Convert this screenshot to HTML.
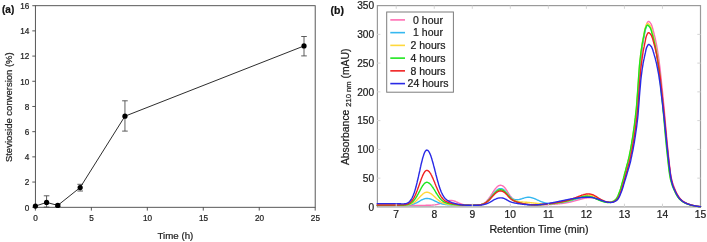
<!DOCTYPE html>
<html><head><meta charset="utf-8"><title>Figure</title>
<style>html,body{margin:0;padding:0;background:#fff}svg{display:block}.tx text{stroke:#222;stroke-width:0.22px;paint-order:stroke}</style></head>
<body><svg width="707" height="242" viewBox="0 0 707 242">
<rect width="707" height="242" fill="#fff"/>
<g id="panelA" font-family="Liberation Sans, sans-serif" fill="#222" class="tx">
<rect x="35.4" y="5.7" width="279.8" height="201.6" fill="none" stroke="#454545" stroke-width="0.9"/>
<line x1="32.3" y1="207.25" x2="35.4" y2="207.25" stroke="#454545" stroke-width="0.9"/>
<text x="29.3" y="210.55" font-size="8.2" text-anchor="end">0</text>
<line x1="32.3" y1="182.06" x2="35.4" y2="182.06" stroke="#454545" stroke-width="0.9"/>
<text x="29.3" y="185.36" font-size="8.2" text-anchor="end">2</text>
<line x1="32.3" y1="156.86" x2="35.4" y2="156.86" stroke="#454545" stroke-width="0.9"/>
<text x="29.3" y="160.16" font-size="8.2" text-anchor="end">4</text>
<line x1="32.3" y1="131.67" x2="35.4" y2="131.67" stroke="#454545" stroke-width="0.9"/>
<text x="29.3" y="134.97" font-size="8.2" text-anchor="end">6</text>
<line x1="32.3" y1="106.47" x2="35.4" y2="106.47" stroke="#454545" stroke-width="0.9"/>
<text x="29.3" y="109.77" font-size="8.2" text-anchor="end">8</text>
<line x1="32.3" y1="81.28" x2="35.4" y2="81.28" stroke="#454545" stroke-width="0.9"/>
<text x="29.3" y="84.58" font-size="8.2" text-anchor="end">10</text>
<line x1="32.3" y1="56.09" x2="35.4" y2="56.09" stroke="#454545" stroke-width="0.9"/>
<text x="29.3" y="59.39" font-size="8.2" text-anchor="end">12</text>
<line x1="32.3" y1="30.89" x2="35.4" y2="30.89" stroke="#454545" stroke-width="0.9"/>
<text x="29.3" y="34.19" font-size="8.2" text-anchor="end">14</text>
<line x1="32.3" y1="5.70" x2="35.4" y2="5.70" stroke="#454545" stroke-width="0.9"/>
<text x="29.3" y="9.00" font-size="8.2" text-anchor="end">16</text>
<line x1="35.40" y1="207.25" x2="35.40" y2="210.6" stroke="#454545" stroke-width="0.9"/>
<text x="35.60" y="221.1" font-size="8.2" text-anchor="middle">0</text>
<line x1="91.36" y1="207.25" x2="91.36" y2="210.6" stroke="#454545" stroke-width="0.9"/>
<text x="91.56" y="221.1" font-size="8.2" text-anchor="middle">5</text>
<line x1="147.32" y1="207.25" x2="147.32" y2="210.6" stroke="#454545" stroke-width="0.9"/>
<text x="147.52" y="221.1" font-size="8.2" text-anchor="middle">10</text>
<line x1="203.28" y1="207.25" x2="203.28" y2="210.6" stroke="#454545" stroke-width="0.9"/>
<text x="203.48" y="221.1" font-size="8.2" text-anchor="middle">15</text>
<line x1="259.24" y1="207.25" x2="259.24" y2="210.6" stroke="#454545" stroke-width="0.9"/>
<text x="259.44" y="221.1" font-size="8.2" text-anchor="middle">20</text>
<line x1="315.20" y1="207.25" x2="315.20" y2="210.6" stroke="#454545" stroke-width="0.9"/>
<text x="315.40" y="221.1" font-size="8.2" text-anchor="middle">25</text>
<path d="M46.59 195.80V207.10M43.79 195.80h5.6M43.79 207.10h5.6" stroke="#4c4c4c" stroke-width="0.9" fill="none"/>
<path d="M57.78 204.30V206.50M54.98 204.30h5.6M54.98 206.50h5.6" stroke="#4c4c4c" stroke-width="0.9" fill="none"/>
<path d="M80.17 184.30V191.00M77.37 184.30h5.6M77.37 191.00h5.6" stroke="#4c4c4c" stroke-width="0.9" fill="none"/>
<path d="M124.94 100.80V131.10M122.14 100.80h5.6M122.14 131.10h5.6" stroke="#4c4c4c" stroke-width="0.9" fill="none"/>
<path d="M304.01 36.50V55.90M301.21 36.50h5.6M301.21 55.90h5.6" stroke="#4c4c4c" stroke-width="0.9" fill="none"/>
<path d="M35.40 206.10 L46.59 202.40 L57.78 205.40 L80.17 187.50 L124.94 116.20 L304.01 45.95" fill="none" stroke="#222" stroke-width="0.95"/>
<circle cx="35.40" cy="206.10" r="2.6" fill="#000"/>
<circle cx="46.59" cy="202.40" r="2.6" fill="#000"/>
<circle cx="57.78" cy="205.40" r="2.6" fill="#000"/>
<circle cx="80.17" cy="187.50" r="2.6" fill="#000"/>
<circle cx="124.94" cy="116.20" r="2.6" fill="#000"/>
<circle cx="304.01" cy="45.95" r="2.6" fill="#000"/>
<text x="175.4" y="238.5" font-size="9.7" text-anchor="middle">Time (h)</text>
<text transform="translate(12.2 107.2) rotate(-90)" font-size="9.5" text-anchor="middle">Stevioside conversion (%)</text>
<text x="2" y="13.4" font-size="10" font-weight="bold" fill="#111">(a)</text>
</g>
<g id="panelB" font-family="Liberation Sans, sans-serif" fill="#1a1a1a" class="tx">
<rect x="377.4" y="5.6" width="323.1" height="201.3" fill="none" stroke="#9a9a9a" stroke-width="1.2"/>
<path d="M377.2 205.17 L377.7 205.17 L378.1 205.17 L378.6 205.17 L379.1 205.17 L379.5 205.17 L380.0 205.17 L380.4 205.17 L380.9 205.17 L381.4 205.17 L381.8 205.17 L382.3 205.17 L382.8 205.17 L383.2 205.17 L383.7 205.17 L384.1 205.17 L384.6 205.17 L385.1 205.17 L385.5 205.17 L386.0 205.17 L386.5 205.17 L386.9 205.17 L387.4 205.17 L387.8 205.17 L388.3 205.17 L388.8 205.17 L389.2 205.17 L389.7 205.17 L390.2 205.17 L390.6 205.17 L391.1 205.17 L391.5 205.17 L392.0 205.17 L392.5 205.17 L392.9 205.17 L393.4 205.17 L393.9 205.17 L394.3 205.17 L394.8 205.17 L395.2 205.17 L395.7 205.17 L396.2 205.17 L396.6 205.17 L397.1 205.17 L397.6 205.17 L398.0 205.18 L398.5 205.18 L398.9 205.18 L399.4 205.18 L399.9 205.19 L400.3 205.19 L400.8 205.20 L401.3 205.20 L401.7 205.21 L402.2 205.21 L402.6 205.22 L403.1 205.22 L403.6 205.23 L404.0 205.24 L404.5 205.24 L405.0 205.25 L405.4 205.25 L405.9 205.26 L406.3 205.27 L406.8 205.27 L407.3 205.28 L407.7 205.29 L408.2 205.29 L408.7 205.30 L409.1 205.30 L409.6 205.31 L410.0 205.31 L410.5 205.32 L411.0 205.32 L411.4 205.33 L411.9 205.33 L412.4 205.33 L412.8 205.34 L413.3 205.34 L413.7 205.34 L414.2 205.34 L414.7 205.34 L415.1 205.34 L415.6 205.34 L416.1 205.34 L416.5 205.34 L417.0 205.34 L417.4 205.34 L417.9 205.34 L418.4 205.34 L418.8 205.34 L419.3 205.34 L419.8 205.34 L420.2 205.34 L420.7 205.34 L421.1 205.34 L421.6 205.34 L422.1 205.34 L422.5 205.34 L423.0 205.34 L423.5 205.34 L423.9 205.34 L424.4 205.33 L424.8 205.33 L425.3 205.33 L425.8 205.32 L426.2 205.32 L426.7 205.32 L427.2 205.31 L427.6 205.30 L428.1 205.29 L428.5 205.28 L429.0 205.27 L429.5 205.26 L429.9 205.24 L430.4 205.22 L430.9 205.20 L431.3 205.17 L431.8 205.14 L432.2 205.11 L432.7 205.07 L433.2 205.03 L433.6 204.98 L434.1 204.93 L434.6 204.87 L435.0 204.80 L435.5 204.73 L435.9 204.65 L436.4 204.57 L436.9 204.47 L437.3 204.37 L437.8 204.26 L438.3 204.14 L438.7 204.01 L439.2 203.88 L439.6 203.74 L440.1 203.59 L440.6 203.43 L441.0 203.27 L441.5 203.10 L442.0 202.93 L442.4 202.75 L442.9 202.57 L443.3 202.39 L443.8 202.21 L444.3 202.03 L444.7 201.86 L445.2 201.68 L445.7 201.52 L446.1 201.36 L446.6 201.21 L447.0 201.07 L447.5 200.94 L448.0 200.82 L448.4 200.72 L448.9 200.63 L449.4 200.56 L449.8 200.51 L450.3 200.47 L450.7 200.45 L451.2 200.45 L451.7 200.48 L452.1 200.52 L452.6 200.60 L453.1 200.69 L453.5 200.81 L454.0 200.95 L454.4 201.10 L454.9 201.27 L455.4 201.45 L455.8 201.64 L456.3 201.85 L456.8 202.05 L457.2 202.27 L457.7 202.48 L458.1 202.69 L458.6 202.90 L459.1 203.10 L459.5 203.30 L460.0 203.49 L460.5 203.67 L460.9 203.84 L461.4 204.00 L461.8 204.15 L462.3 204.29 L462.8 204.41 L463.2 204.53 L463.7 204.63 L464.2 204.73 L464.6 204.81 L465.1 204.89 L465.5 204.96 L466.0 205.01 L466.5 205.07 L466.9 205.11 L467.4 205.15 L467.9 205.18 L468.3 205.21 L468.8 205.23 L469.2 205.25 L469.7 205.27 L470.2 205.28 L470.6 205.29 L471.1 205.30 L471.6 205.30 L472.0 205.30 L472.5 205.31 L472.9 205.30 L473.4 205.30 L473.9 205.30 L474.3 205.29 L474.8 205.28 L475.3 205.26 L475.7 205.24 L476.2 205.22 L476.6 205.19 L477.1 205.16 L477.6 205.12 L478.0 205.08 L478.5 205.02 L479.0 204.96 L479.4 204.88 L479.9 204.79 L480.3 204.69 L480.8 204.57 L481.3 204.44 L481.7 204.28 L482.2 204.11 L482.7 203.91 L483.1 203.69 L483.6 203.44 L484.0 203.17 L484.5 202.86 L485.0 202.53 L485.4 202.16 L485.9 201.76 L486.4 201.32 L486.8 200.86 L487.3 200.36 L487.7 199.82 L488.2 199.26 L488.7 198.66 L489.1 198.04 L489.6 197.39 L490.1 196.71 L490.5 196.02 L491.0 195.31 L491.4 194.59 L491.9 193.86 L492.4 193.13 L492.8 192.41 L493.3 191.69 L493.8 190.99 L494.2 190.30 L494.7 189.65 L495.1 189.02 L495.6 188.43 L496.1 187.89 L496.5 187.38 L497.0 186.93 L497.5 186.53 L497.9 186.18 L498.4 185.89 L498.8 185.66 L499.3 185.49 L499.8 185.38 L500.2 185.31 L500.7 185.30 L501.2 185.33 L501.6 185.42 L502.1 185.57 L502.5 185.79 L503.0 186.08 L503.5 186.43 L503.9 186.85 L504.4 187.32 L504.9 187.85 L505.3 188.44 L505.8 189.06 L506.2 189.73 L506.7 190.42 L507.2 191.14 L507.6 191.87 L508.1 192.61 L508.6 193.34 L509.0 194.07 L509.5 194.77 L509.9 195.46 L510.4 196.11 L510.9 196.72 L511.3 197.30 L511.8 197.83 L512.3 198.33 L512.7 198.78 L513.2 199.19 L513.6 199.56 L514.1 199.90 L514.6 200.22 L515.0 200.51 L515.5 200.79 L516.0 201.06 L516.4 201.32 L516.9 201.58 L517.3 201.83 L517.8 202.05 L518.3 202.26 L518.7 202.45 L519.2 202.62 L519.7 202.78 L520.1 202.93 L520.6 203.07 L521.0 203.21 L521.5 203.33 L522.0 203.45 L522.4 203.56 L522.9 203.67 L523.4 203.77 L523.8 203.87 L524.3 203.96 L524.7 204.05 L525.2 204.14 L525.7 204.22 L526.1 204.30 L526.6 204.38 L527.1 204.45 L527.5 204.52 L528.0 204.58 L528.4 204.64 L528.9 204.70 L529.4 204.75 L529.8 204.80 L530.3 204.84 L530.8 204.88 L531.2 204.91 L531.7 204.95 L532.1 204.97 L532.6 205.00 L533.1 205.02 L533.5 205.04 L534.0 205.05 L534.5 205.07 L534.9 205.08 L535.4 205.08 L535.8 205.09 L536.3 205.09 L536.8 205.09 L537.2 205.09 L537.7 205.08 L538.2 205.08 L538.6 205.07 L539.1 205.06 L539.5 205.05 L540.0 205.04 L540.5 205.02 L540.9 205.01 L541.4 205.00 L541.9 204.98 L542.3 204.96 L542.8 204.94 L543.2 204.93 L543.7 204.91 L544.2 204.88 L544.6 204.86 L545.1 204.84 L545.6 204.82 L546.0 204.79 L546.5 204.77 L546.9 204.74 L547.4 204.72 L547.9 204.69 L548.3 204.66 L548.8 204.63 L549.3 204.61 L549.7 204.58 L550.2 204.55 L550.6 204.52 L551.1 204.48 L551.6 204.45 L552.0 204.42 L552.5 204.38 L553.0 204.35 L553.4 204.31 L553.9 204.28 L554.3 204.24 L554.8 204.20 L555.3 204.16 L555.7 204.12 L556.2 204.08 L556.7 204.04 L557.1 204.00 L557.6 203.96 L558.0 203.91 L558.5 203.87 L559.0 203.82 L559.4 203.77 L559.9 203.72 L560.4 203.67 L560.8 203.61 L561.3 203.56 L561.7 203.50 L562.2 203.44 L562.7 203.38 L563.1 203.32 L563.6 203.25 L564.1 203.19 L564.5 203.12 L565.0 203.04 L565.4 202.97 L565.9 202.89 L566.4 202.81 L566.8 202.73 L567.3 202.64 L567.8 202.55 L568.2 202.46 L568.7 202.36 L569.1 202.27 L569.6 202.17 L570.1 202.07 L570.5 201.97 L571.0 201.86 L571.5 201.75 L571.9 201.64 L572.4 201.53 L572.8 201.42 L573.3 201.30 L573.8 201.18 L574.2 201.06 L574.7 200.94 L575.2 200.81 L575.6 200.69 L576.1 200.56 L576.5 200.43 L577.0 200.30 L577.5 200.17 L577.9 200.04 L578.4 199.90 L578.9 199.77 L579.3 199.64 L579.8 199.51 L580.2 199.38 L580.7 199.25 L581.2 199.13 L581.6 199.00 L582.1 198.88 L582.6 198.77 L583.0 198.65 L583.5 198.54 L583.9 198.44 L584.4 198.34 L584.9 198.24 L585.3 198.15 L585.8 198.07 L586.3 198.00 L586.7 197.93 L587.2 197.87 L587.6 197.82 L588.1 197.77 L588.6 197.73 L589.0 197.71 L589.5 197.69 L590.0 197.68 L590.4 197.68 L590.9 197.68 L591.3 197.70 L591.8 197.74 L592.3 197.78 L592.7 197.85 L593.2 197.92 L593.7 198.01 L594.1 198.11 L594.6 198.23 L595.0 198.35 L595.5 198.49 L596.0 198.64 L596.4 198.79 L596.9 198.95 L597.4 199.12 L597.8 199.28 L598.3 199.44 L598.7 199.61 L599.2 199.77 L599.7 199.93 L600.1 200.09 L600.6 200.25 L601.1 200.40 L601.5 200.55 L602.0 200.70 L602.4 200.85 L602.9 200.99 L603.4 201.14 L603.8 201.28 L604.3 201.41 L604.8 201.55 L605.2 201.67 L605.7 201.79 L606.1 201.89 L606.6 201.98 L607.1 202.07 L607.5 202.13 L608.0 202.19 L608.5 202.23 L608.9 202.26 L609.4 202.28 L609.8 202.28 L610.3 202.27 L610.8 202.24 L611.2 202.19 L611.7 202.11 L612.2 202.01 L612.6 201.87 L613.1 201.71 L613.5 201.52 L614.0 201.29 L614.5 201.03 L614.9 200.74 L615.4 200.42 L615.9 200.06 L616.3 199.67 L616.8 199.24 L617.2 198.75 L617.7 198.09 L618.2 197.27 L618.6 196.30 L619.1 195.22 L619.6 194.05 L620.0 192.82 L620.5 191.55 L620.9 190.27 L621.4 188.88 L621.9 187.33 L622.3 185.68 L622.8 183.94 L623.3 182.17 L623.7 180.40 L624.2 178.67 L624.6 176.95 L625.1 175.20 L625.6 173.43 L626.0 171.64 L626.5 169.85 L627.0 168.05 L627.4 166.26 L627.9 164.53 L628.3 162.82 L628.8 161.06 L629.3 159.20 L629.7 157.19 L630.2 155.00 L630.7 152.71 L631.1 150.33 L631.6 147.86 L632.0 145.30 L632.5 142.63 L633.0 139.84 L633.4 136.93 L633.9 133.89 L634.4 130.72 L634.8 127.39 L635.3 123.92 L635.7 120.28 L636.2 116.47 L636.7 112.48 L637.1 108.19 L637.6 102.94 L638.1 96.90 L638.5 90.32 L639.0 83.47 L639.4 76.63 L639.9 70.06 L640.4 64.04 L640.8 58.83 L641.3 54.54 L641.8 50.71 L642.2 47.22 L642.7 44.04 L643.1 41.11 L643.6 38.49 L644.1 36.08 L644.5 33.70 L645.0 31.15 L645.5 28.61 L645.9 26.39 L646.4 24.80 L646.8 23.67 L647.3 22.65 L647.8 21.87 L648.2 21.46 L648.7 21.47 L649.2 21.70 L649.6 22.09 L650.1 22.59 L650.5 23.18 L651.0 23.82 L651.5 24.73 L651.9 25.97 L652.4 27.46 L652.9 29.12 L653.3 30.88 L653.8 32.67 L654.2 34.44 L654.7 36.33 L655.2 38.36 L655.6 40.51 L656.1 42.79 L656.6 45.17 L657.0 47.68 L657.5 50.34 L657.9 53.18 L658.4 56.22 L658.9 59.45 L659.3 62.92 L659.8 66.66 L660.3 70.63 L660.7 74.81 L661.2 79.15 L661.6 83.63 L662.1 88.22 L662.6 92.86 L663.0 97.55 L663.5 102.23 L664.0 106.90 L664.4 111.77 L664.9 116.86 L665.3 122.09 L665.8 127.39 L666.3 132.69 L666.7 137.92 L667.2 142.99 L667.7 147.85 L668.1 152.41 L668.6 156.65 L669.0 160.89 L669.5 165.06 L670.0 169.01 L670.4 172.60 L670.9 175.66 L671.4 178.06 L671.8 180.02 L672.3 181.78 L672.7 183.35 L673.2 184.77 L673.7 186.06 L674.1 187.26 L674.6 188.39 L675.1 189.47 L675.5 190.53 L676.0 191.55 L676.4 192.53 L676.9 193.47 L677.4 194.36 L677.8 195.19 L678.3 195.98 L678.8 196.70 L679.2 197.35 L679.7 197.94 L680.1 198.46 L680.6 198.94 L681.1 199.40 L681.5 199.84 L682.0 200.25 L682.5 200.64 L682.9 201.01 L683.4 201.35 L683.8 201.67 L684.3 201.97 L684.8 202.25 L685.2 202.50 L685.7 202.74 L686.2 202.96 L686.6 203.18 L687.1 203.39 L687.5 203.59 L688.0 203.78 L688.5 203.96 L688.9 204.14 L689.4 204.31 L689.9 204.47 L690.3 204.62 L690.8 204.77 L691.2 204.91 L691.7 205.04 L692.2 205.16 L692.6 205.28 L693.1 205.39 L693.6 205.50 L694.0 205.60 L694.5 205.70 L694.9 205.80 L695.4 205.90 L695.9 205.99 L696.3 206.08 L696.8 206.17 L697.3 206.25 L697.7 206.32 L698.2 206.39 L698.6 206.46 L699.1 206.51 L699.6 206.56 L700.0 206.60 L700.5 206.63" fill="none" stroke="#ff6eb4" stroke-width="1.4" stroke-linejoin="round" stroke-linecap="round"/>
<path d="M377.2 205.34 L377.7 205.34 L378.1 205.34 L378.6 205.34 L379.1 205.34 L379.5 205.34 L380.0 205.34 L380.4 205.34 L380.9 205.34 L381.4 205.34 L381.8 205.34 L382.3 205.34 L382.8 205.34 L383.2 205.34 L383.7 205.34 L384.1 205.34 L384.6 205.34 L385.1 205.34 L385.5 205.34 L386.0 205.34 L386.5 205.34 L386.9 205.34 L387.4 205.34 L387.8 205.34 L388.3 205.34 L388.8 205.34 L389.2 205.34 L389.7 205.34 L390.2 205.34 L390.6 205.34 L391.1 205.34 L391.5 205.34 L392.0 205.34 L392.5 205.34 L392.9 205.34 L393.4 205.34 L393.9 205.34 L394.3 205.34 L394.8 205.34 L395.2 205.34 L395.7 205.34 L396.2 205.34 L396.6 205.34 L397.1 205.34 L397.6 205.34 L398.0 205.34 L398.5 205.34 L398.9 205.34 L399.4 205.34 L399.9 205.34 L400.3 205.33 L400.8 205.33 L401.3 205.33 L401.7 205.33 L402.2 205.32 L402.6 205.31 L403.1 205.31 L403.6 205.30 L404.0 205.29 L404.5 205.28 L405.0 205.26 L405.4 205.25 L405.9 205.23 L406.3 205.20 L406.8 205.18 L407.3 205.15 L407.7 205.11 L408.2 205.07 L408.7 205.02 L409.1 204.97 L409.6 204.91 L410.0 204.84 L410.5 204.76 L411.0 204.68 L411.4 204.58 L411.9 204.48 L412.4 204.36 L412.8 204.23 L413.3 204.09 L413.7 203.94 L414.2 203.77 L414.7 203.60 L415.1 203.41 L415.6 203.21 L416.1 203.00 L416.5 202.77 L417.0 202.54 L417.4 202.30 L417.9 202.05 L418.4 201.79 L418.8 201.53 L419.3 201.27 L419.8 201.01 L420.2 200.74 L420.7 200.48 L421.1 200.23 L421.6 199.98 L422.1 199.75 L422.5 199.53 L423.0 199.32 L423.5 199.13 L423.9 198.96 L424.4 198.81 L424.8 198.68 L425.3 198.58 L425.8 198.51 L426.2 198.46 L426.7 198.43 L427.2 198.44 L427.6 198.46 L428.1 198.51 L428.5 198.57 L429.0 198.66 L429.5 198.76 L429.9 198.88 L430.4 199.02 L430.9 199.18 L431.3 199.35 L431.8 199.53 L432.2 199.72 L432.7 199.93 L433.2 200.14 L433.6 200.35 L434.1 200.58 L434.6 200.80 L435.0 201.03 L435.5 201.26 L435.9 201.49 L436.4 201.71 L436.9 201.94 L437.3 202.15 L437.8 202.36 L438.3 202.57 L438.7 202.76 L439.2 202.95 L439.6 203.12 L440.1 203.29 L440.6 203.45 L441.0 203.60 L441.5 203.73 L442.0 203.86 L442.4 203.97 L442.9 204.08 L443.3 204.18 L443.8 204.27 L444.3 204.35 L444.7 204.42 L445.2 204.48 L445.7 204.54 L446.1 204.59 L446.6 204.64 L447.0 204.69 L447.5 204.73 L448.0 204.76 L448.4 204.80 L448.9 204.83 L449.4 204.86 L449.8 204.89 L450.3 204.92 L450.7 204.94 L451.2 204.97 L451.7 204.99 L452.1 205.01 L452.6 205.03 L453.1 205.05 L453.5 205.07 L454.0 205.08 L454.4 205.10 L454.9 205.12 L455.4 205.13 L455.8 205.15 L456.3 205.16 L456.8 205.18 L457.2 205.19 L457.7 205.20 L458.1 205.21 L458.6 205.23 L459.1 205.24 L459.5 205.25 L460.0 205.26 L460.5 205.27 L460.9 205.27 L461.4 205.28 L461.8 205.29 L462.3 205.29 L462.8 205.30 L463.2 205.31 L463.7 205.31 L464.2 205.31 L464.6 205.32 L465.1 205.32 L465.5 205.33 L466.0 205.33 L466.5 205.33 L466.9 205.33 L467.4 205.33 L467.9 205.33 L468.3 205.34 L468.8 205.34 L469.2 205.34 L469.7 205.34 L470.2 205.34 L470.6 205.34 L471.1 205.33 L471.6 205.33 L472.0 205.33 L472.5 205.33 L472.9 205.32 L473.4 205.32 L473.9 205.31 L474.3 205.30 L474.8 205.29 L475.3 205.28 L475.7 205.26 L476.2 205.24 L476.6 205.22 L477.1 205.19 L477.6 205.16 L478.0 205.12 L478.5 205.08 L479.0 205.02 L479.4 204.96 L479.9 204.88 L480.3 204.80 L480.8 204.70 L481.3 204.59 L481.7 204.46 L482.2 204.31 L482.7 204.15 L483.1 203.96 L483.6 203.76 L484.0 203.53 L484.5 203.27 L485.0 203.00 L485.4 202.69 L485.9 202.36 L486.4 201.99 L486.8 201.61 L487.3 201.19 L487.7 200.74 L488.2 200.27 L488.7 199.78 L489.1 199.26 L489.6 198.71 L490.1 198.15 L490.5 197.57 L491.0 196.98 L491.4 196.38 L491.9 195.78 L492.4 195.17 L492.8 194.56 L493.3 193.96 L493.8 193.38 L494.2 192.81 L494.7 192.26 L495.1 191.74 L495.6 191.25 L496.1 190.79 L496.5 190.37 L497.0 189.99 L497.5 189.66 L497.9 189.37 L498.4 189.13 L498.8 188.93 L499.3 188.79 L499.8 188.69 L500.2 188.63 L500.7 188.62 L501.2 188.64 L501.6 188.71 L502.1 188.83 L502.5 189.01 L503.0 189.24 L503.5 189.52 L503.9 189.86 L504.4 190.24 L504.9 190.66 L505.3 191.13 L505.8 191.63 L506.2 192.16 L506.7 192.71 L507.2 193.28 L507.6 193.86 L508.1 194.43 L508.6 195.00 L509.0 195.55 L509.5 196.09 L509.9 196.59 L510.4 197.07 L510.9 197.50 L511.3 197.90 L511.8 198.25 L512.3 198.56 L512.7 198.83 L513.2 199.05 L513.6 199.23 L514.1 199.38 L514.6 199.49 L515.0 199.58 L515.5 199.64 L516.0 199.69 L516.4 199.72 L516.9 199.74 L517.3 199.73 L517.8 199.70 L518.3 199.65 L518.7 199.57 L519.2 199.48 L519.7 199.37 L520.1 199.25 L520.6 199.11 L521.0 198.97 L521.5 198.82 L522.0 198.67 L522.4 198.52 L522.9 198.37 L523.4 198.22 L523.8 198.07 L524.3 197.94 L524.7 197.81 L525.2 197.69 L525.7 197.58 L526.1 197.49 L526.6 197.41 L527.1 197.35 L527.5 197.31 L528.0 197.28 L528.4 197.27 L528.9 197.28 L529.4 197.31 L529.8 197.36 L530.3 197.42 L530.8 197.50 L531.2 197.59 L531.7 197.70 L532.1 197.82 L532.6 197.95 L533.1 198.10 L533.5 198.26 L534.0 198.43 L534.5 198.61 L534.9 198.79 L535.4 198.99 L535.8 199.19 L536.3 199.40 L536.8 199.61 L537.2 199.82 L537.7 200.03 L538.2 200.25 L538.6 200.46 L539.1 200.67 L539.5 200.88 L540.0 201.09 L540.5 201.29 L540.9 201.48 L541.4 201.67 L541.9 201.84 L542.3 202.02 L542.8 202.18 L543.2 202.33 L543.7 202.48 L544.2 202.62 L544.6 202.74 L545.1 202.86 L545.6 202.97 L546.0 203.06 L546.5 203.15 L546.9 203.23 L547.4 203.30 L547.9 203.36 L548.3 203.41 L548.8 203.46 L549.3 203.49 L549.7 203.52 L550.2 203.54 L550.6 203.56 L551.1 203.56 L551.6 203.57 L552.0 203.56 L552.5 203.55 L553.0 203.54 L553.4 203.52 L553.9 203.50 L554.3 203.47 L554.8 203.44 L555.3 203.40 L555.7 203.37 L556.2 203.32 L556.7 203.28 L557.1 203.23 L557.6 203.18 L558.0 203.13 L558.5 203.08 L559.0 203.02 L559.4 202.96 L559.9 202.90 L560.4 202.84 L560.8 202.77 L561.3 202.70 L561.7 202.63 L562.2 202.56 L562.7 202.48 L563.1 202.40 L563.6 202.32 L564.1 202.24 L564.5 202.15 L565.0 202.06 L565.4 201.97 L565.9 201.87 L566.4 201.77 L566.8 201.67 L567.3 201.56 L567.8 201.45 L568.2 201.33 L568.7 201.22 L569.1 201.10 L569.6 200.98 L570.1 200.86 L570.5 200.74 L571.0 200.61 L571.5 200.48 L571.9 200.35 L572.4 200.22 L572.8 200.08 L573.3 199.94 L573.8 199.80 L574.2 199.66 L574.7 199.51 L575.2 199.37 L575.6 199.22 L576.1 199.07 L576.5 198.92 L577.0 198.77 L577.5 198.62 L577.9 198.48 L578.4 198.33 L578.9 198.18 L579.3 198.03 L579.8 197.89 L580.2 197.75 L580.7 197.61 L581.2 197.48 L581.6 197.35 L582.1 197.22 L582.6 197.11 L583.0 196.99 L583.5 196.89 L583.9 196.79 L584.4 196.70 L584.9 196.62 L585.3 196.54 L585.8 196.48 L586.3 196.43 L586.7 196.38 L587.2 196.35 L587.6 196.33 L588.1 196.32 L588.6 196.32 L589.0 196.33 L589.5 196.35 L590.0 196.39 L590.4 196.44 L590.9 196.51 L591.3 196.60 L591.8 196.70 L592.3 196.81 L592.7 196.94 L593.2 197.09 L593.7 197.24 L594.1 197.41 L594.6 197.59 L595.0 197.78 L595.5 197.98 L596.0 198.19 L596.4 198.40 L596.9 198.61 L597.4 198.82 L597.8 199.02 L598.3 199.23 L598.7 199.43 L599.2 199.63 L599.7 199.83 L600.1 200.02 L600.6 200.20 L601.1 200.39 L601.5 200.56 L602.0 200.74 L602.4 200.90 L602.9 201.07 L603.4 201.23 L603.8 201.38 L604.3 201.53 L604.8 201.67 L605.2 201.79 L605.7 201.90 L606.1 202.00 L606.6 202.09 L607.1 202.17 L607.5 202.23 L608.0 202.27 L608.5 202.30 L608.9 202.32 L609.4 202.32 L609.8 202.31 L610.3 202.28 L610.8 202.22 L611.2 202.14 L611.7 202.03 L612.2 201.89 L612.6 201.72 L613.1 201.52 L613.5 201.29 L614.0 201.03 L614.5 200.73 L614.9 200.40 L615.4 200.04 L615.9 199.65 L616.3 199.21 L616.8 198.69 L617.2 197.99 L617.7 197.14 L618.2 196.15 L618.6 195.06 L619.1 193.90 L619.6 192.67 L620.0 191.42 L620.5 190.15 L620.9 188.74 L621.4 187.18 L621.9 185.53 L622.3 183.82 L622.8 182.07 L623.3 180.35 L623.7 178.66 L624.2 176.96 L624.6 175.23 L625.1 173.49 L625.6 171.74 L626.0 169.98 L626.5 168.21 L627.0 166.48 L627.4 164.79 L627.9 163.10 L628.3 161.35 L628.8 159.49 L629.3 157.47 L629.7 155.28 L630.2 153.01 L630.7 150.65 L631.1 148.21 L631.6 145.66 L632.0 143.01 L632.5 140.24 L633.0 137.35 L633.4 134.33 L633.9 131.17 L634.4 127.87 L634.8 124.41 L635.3 120.80 L635.7 117.01 L636.2 113.04 L636.7 108.59 L637.1 103.19 L637.6 97.07 L638.1 90.51 L638.5 83.76 L639.0 77.10 L639.4 70.79 L639.9 65.09 L640.4 60.26 L640.8 56.22 L641.3 52.57 L641.8 49.24 L642.2 46.19 L642.7 43.40 L643.1 40.91 L643.6 38.58 L644.1 36.20 L644.5 33.66 L645.0 31.24 L645.5 29.22 L645.9 27.86 L646.4 26.77 L646.8 25.83 L647.3 25.16 L647.8 24.88 L648.2 24.98 L648.7 25.25 L649.2 25.67 L649.6 26.19 L650.1 26.78 L650.5 27.46 L651.0 28.46 L651.5 29.75 L651.9 31.27 L652.4 32.94 L652.9 34.68 L653.3 36.43 L653.8 38.19 L654.2 40.09 L654.7 42.12 L655.2 44.27 L655.6 46.53 L656.1 48.90 L656.6 51.40 L657.0 54.07 L657.5 56.91 L657.9 59.95 L658.4 63.19 L658.9 66.67 L659.3 70.41 L659.8 74.37 L660.3 78.52 L660.7 82.83 L661.2 87.26 L661.6 91.78 L662.1 96.35 L662.6 100.95 L663.0 105.54 L663.5 110.16 L664.0 115.01 L664.4 120.05 L664.9 125.22 L665.3 130.43 L665.8 135.61 L666.3 140.70 L666.7 145.63 L667.2 150.31 L667.7 154.69 L668.1 158.82 L668.6 162.97 L669.0 167.02 L669.5 170.81 L670.0 174.19 L670.4 177.02 L670.9 179.19 L671.4 181.06 L671.8 182.72 L672.3 184.22 L672.7 185.57 L673.2 186.81 L673.7 187.96 L674.1 189.05 L674.6 190.11 L675.1 191.13 L675.5 192.12 L676.0 193.07 L676.4 193.98 L676.9 194.84 L677.4 195.65 L677.8 196.40 L678.3 197.09 L678.8 197.71 L679.2 198.26 L679.7 198.76 L680.1 199.23 L680.6 199.67 L681.1 200.10 L681.5 200.49 L682.0 200.87 L682.5 201.22 L682.9 201.55 L683.4 201.86 L683.8 202.14 L684.3 202.41 L684.8 202.66 L685.2 202.88 L685.7 203.10 L686.2 203.31 L686.6 203.51 L687.1 203.70 L687.5 203.89 L688.0 204.07 L688.5 204.24 L688.9 204.40 L689.4 204.56 L689.9 204.71 L690.3 204.85 L690.8 204.98 L691.2 205.11 L691.7 205.23 L692.2 205.35 L692.6 205.45 L693.1 205.56 L693.6 205.66 L694.0 205.75 L694.5 205.85 L694.9 205.95 L695.4 206.04 L695.9 206.12 L696.3 206.21 L696.8 206.28 L697.3 206.36 L697.7 206.42 L698.2 206.48 L698.6 206.53 L699.1 206.58 L699.6 206.61 L700.0 206.64 L700.5 206.67" fill="none" stroke="#35b8f0" stroke-width="1.4" stroke-linejoin="round" stroke-linecap="round"/>
<path d="M377.2 205.34 L377.7 205.34 L378.1 205.34 L378.6 205.34 L379.1 205.34 L379.5 205.34 L380.0 205.34 L380.4 205.34 L380.9 205.34 L381.4 205.34 L381.8 205.34 L382.3 205.34 L382.8 205.34 L383.2 205.34 L383.7 205.34 L384.1 205.34 L384.6 205.34 L385.1 205.34 L385.5 205.34 L386.0 205.34 L386.5 205.34 L386.9 205.34 L387.4 205.34 L387.8 205.34 L388.3 205.34 L388.8 205.34 L389.2 205.34 L389.7 205.34 L390.2 205.34 L390.6 205.34 L391.1 205.34 L391.5 205.34 L392.0 205.34 L392.5 205.34 L392.9 205.34 L393.4 205.34 L393.9 205.34 L394.3 205.34 L394.8 205.34 L395.2 205.34 L395.7 205.34 L396.2 205.34 L396.6 205.34 L397.1 205.34 L397.6 205.34 L398.0 205.34 L398.5 205.34 L398.9 205.34 L399.4 205.33 L399.9 205.33 L400.3 205.33 L400.8 205.32 L401.3 205.31 L401.7 205.31 L402.2 205.30 L402.6 205.29 L403.1 205.27 L403.6 205.26 L404.0 205.24 L404.5 205.22 L405.0 205.19 L405.4 205.16 L405.9 205.12 L406.3 205.08 L406.8 205.03 L407.3 204.97 L407.7 204.90 L408.2 204.82 L408.7 204.73 L409.1 204.63 L409.6 204.52 L410.0 204.39 L410.5 204.24 L411.0 204.08 L411.4 203.89 L411.9 203.69 L412.4 203.47 L412.8 203.23 L413.3 202.96 L413.7 202.67 L414.2 202.36 L414.7 202.02 L415.1 201.66 L415.6 201.28 L416.1 200.88 L416.5 200.46 L417.0 200.02 L417.4 199.56 L417.9 199.08 L418.4 198.60 L418.8 198.10 L419.3 197.60 L419.8 197.10 L420.2 196.60 L420.7 196.11 L421.1 195.63 L421.6 195.16 L422.1 194.71 L422.5 194.29 L423.0 193.90 L423.5 193.54 L423.9 193.21 L424.4 192.93 L424.8 192.69 L425.3 192.50 L425.8 192.35 L426.2 192.26 L426.7 192.21 L427.2 192.22 L427.6 192.27 L428.1 192.35 L428.5 192.48 L429.0 192.64 L429.5 192.84 L429.9 193.07 L430.4 193.33 L430.9 193.63 L431.3 193.95 L431.8 194.29 L432.2 194.66 L432.7 195.05 L433.2 195.45 L433.6 195.86 L434.1 196.29 L434.6 196.72 L435.0 197.15 L435.5 197.59 L435.9 198.02 L436.4 198.45 L436.9 198.87 L437.3 199.28 L437.8 199.68 L438.3 200.06 L438.7 200.43 L439.2 200.79 L439.6 201.13 L440.1 201.44 L440.6 201.74 L441.0 202.02 L441.5 202.28 L442.0 202.52 L442.4 202.74 L442.9 202.94 L443.3 203.13 L443.8 203.29 L444.3 203.45 L444.7 203.58 L445.2 203.71 L445.7 203.82 L446.1 203.92 L446.6 204.01 L447.0 204.09 L447.5 204.17 L448.0 204.24 L448.4 204.31 L448.9 204.37 L449.4 204.43 L449.8 204.49 L450.3 204.54 L450.7 204.58 L451.2 204.63 L451.7 204.67 L452.1 204.71 L452.6 204.75 L453.1 204.78 L453.5 204.82 L454.0 204.85 L454.4 204.88 L454.9 204.91 L455.4 204.94 L455.8 204.97 L456.3 205.00 L456.8 205.02 L457.2 205.05 L457.7 205.07 L458.1 205.10 L458.6 205.12 L459.1 205.14 L459.5 205.16 L460.0 205.18 L460.5 205.19 L460.9 205.21 L461.4 205.22 L461.8 205.24 L462.3 205.25 L462.8 205.26 L463.2 205.27 L463.7 205.28 L464.2 205.29 L464.6 205.30 L465.1 205.30 L465.5 205.31 L466.0 205.31 L466.5 205.32 L466.9 205.32 L467.4 205.32 L467.9 205.33 L468.3 205.33 L468.8 205.33 L469.2 205.33 L469.7 205.33 L470.2 205.33 L470.6 205.33 L471.1 205.33 L471.6 205.33 L472.0 205.33 L472.5 205.33 L472.9 205.32 L473.4 205.32 L473.9 205.31 L474.3 205.30 L474.8 205.29 L475.3 205.28 L475.7 205.27 L476.2 205.25 L476.6 205.23 L477.1 205.20 L477.6 205.17 L478.0 205.14 L478.5 205.09 L479.0 205.04 L479.4 204.98 L479.9 204.92 L480.3 204.84 L480.8 204.75 L481.3 204.64 L481.7 204.52 L482.2 204.39 L482.7 204.23 L483.1 204.06 L483.6 203.87 L484.0 203.65 L484.5 203.42 L485.0 203.16 L485.4 202.87 L485.9 202.56 L486.4 202.23 L486.8 201.86 L487.3 201.48 L487.7 201.06 L488.2 200.62 L488.7 200.16 L489.1 199.68 L489.6 199.17 L490.1 198.65 L490.5 198.11 L491.0 197.56 L491.4 197.00 L491.9 196.44 L492.4 195.87 L492.8 195.31 L493.3 194.75 L493.8 194.21 L494.2 193.68 L494.7 193.17 L495.1 192.68 L495.6 192.22 L496.1 191.80 L496.5 191.41 L497.0 191.06 L497.5 190.74 L497.9 190.48 L498.4 190.25 L498.8 190.07 L499.3 189.94 L499.8 189.85 L500.2 189.80 L500.7 189.79 L501.2 189.81 L501.6 189.88 L502.1 189.99 L502.5 190.16 L503.0 190.38 L503.5 190.65 L503.9 190.97 L504.4 191.33 L504.9 191.74 L505.3 192.18 L505.8 192.66 L506.2 193.17 L506.7 193.70 L507.2 194.24 L507.6 194.79 L508.1 195.34 L508.6 195.89 L509.0 196.42 L509.5 196.94 L509.9 197.43 L510.4 197.89 L510.9 198.32 L511.3 198.72 L511.8 199.08 L512.3 199.40 L512.7 199.68 L513.2 199.93 L513.6 200.15 L514.1 200.34 L514.6 200.51 L515.0 200.67 L515.5 200.81 L516.0 200.95 L516.4 201.09 L516.9 201.23 L517.3 201.36 L517.8 201.48 L518.3 201.57 L518.7 201.66 L519.2 201.73 L519.7 201.79 L520.1 201.85 L520.6 201.89 L521.0 201.94 L521.5 201.97 L522.0 202.00 L522.4 202.03 L522.9 202.06 L523.4 202.09 L523.8 202.11 L524.3 202.14 L524.7 202.16 L525.2 202.19 L525.7 202.22 L526.1 202.25 L526.6 202.28 L527.1 202.31 L527.5 202.35 L528.0 202.38 L528.4 202.42 L528.9 202.47 L529.4 202.51 L529.8 202.56 L530.3 202.60 L530.8 202.65 L531.2 202.70 L531.7 202.76 L532.1 202.81 L532.6 202.86 L533.1 202.92 L533.5 202.97 L534.0 203.03 L534.5 203.08 L534.9 203.14 L535.4 203.20 L535.8 203.25 L536.3 203.31 L536.8 203.36 L537.2 203.42 L537.7 203.47 L538.2 203.52 L538.6 203.57 L539.1 203.62 L539.5 203.66 L540.0 203.70 L540.5 203.74 L540.9 203.78 L541.4 203.81 L541.9 203.84 L542.3 203.87 L542.8 203.89 L543.2 203.91 L543.7 203.93 L544.2 203.94 L544.6 203.95 L545.1 203.95 L545.6 203.96 L546.0 203.95 L546.5 203.95 L546.9 203.94 L547.4 203.92 L547.9 203.91 L548.3 203.89 L548.8 203.86 L549.3 203.84 L549.7 203.81 L550.2 203.78 L550.6 203.74 L551.1 203.71 L551.6 203.67 L552.0 203.62 L552.5 203.58 L553.0 203.53 L553.4 203.48 L553.9 203.43 L554.3 203.38 L554.8 203.33 L555.3 203.27 L555.7 203.22 L556.2 203.16 L556.7 203.10 L557.1 203.03 L557.6 202.97 L558.0 202.90 L558.5 202.84 L559.0 202.77 L559.4 202.70 L559.9 202.62 L560.4 202.55 L560.8 202.47 L561.3 202.39 L561.7 202.31 L562.2 202.23 L562.7 202.14 L563.1 202.05 L563.6 201.96 L564.1 201.86 L564.5 201.77 L565.0 201.66 L565.4 201.56 L565.9 201.45 L566.4 201.34 L566.8 201.22 L567.3 201.10 L567.8 200.98 L568.2 200.85 L568.7 200.73 L569.1 200.60 L569.6 200.46 L570.1 200.33 L570.5 200.19 L571.0 200.05 L571.5 199.91 L571.9 199.76 L572.4 199.61 L572.8 199.46 L573.3 199.31 L573.8 199.15 L574.2 198.99 L574.7 198.83 L575.2 198.67 L575.6 198.51 L576.1 198.34 L576.5 198.18 L577.0 198.01 L577.5 197.84 L577.9 197.68 L578.4 197.51 L578.9 197.35 L579.3 197.19 L579.8 197.03 L580.2 196.87 L580.7 196.72 L581.2 196.57 L581.6 196.43 L582.1 196.29 L582.6 196.16 L583.0 196.04 L583.5 195.92 L583.9 195.81 L584.4 195.71 L584.9 195.62 L585.3 195.54 L585.8 195.47 L586.3 195.41 L586.7 195.36 L587.2 195.33 L587.6 195.30 L588.1 195.29 L588.6 195.29 L589.0 195.30 L589.5 195.33 L590.0 195.37 L590.4 195.43 L590.9 195.51 L591.3 195.60 L591.8 195.72 L592.3 195.85 L592.7 195.99 L593.2 196.15 L593.7 196.32 L594.1 196.51 L594.6 196.71 L595.0 196.92 L595.5 197.14 L596.0 197.37 L596.4 197.60 L596.9 197.84 L597.4 198.07 L597.8 198.30 L598.3 198.53 L598.7 198.76 L599.2 198.98 L599.7 199.20 L600.1 199.42 L600.6 199.63 L601.1 199.84 L601.5 200.04 L602.0 200.24 L602.4 200.43 L602.9 200.62 L603.4 200.80 L603.8 200.98 L604.3 201.15 L604.8 201.30 L605.2 201.45 L605.7 201.58 L606.1 201.69 L606.6 201.80 L607.1 201.88 L607.5 201.96 L608.0 202.01 L608.5 202.06 L608.9 202.08 L609.4 202.09 L609.8 202.09 L610.3 202.06 L610.8 202.01 L611.2 201.92 L611.7 201.81 L612.2 201.67 L612.6 201.49 L613.1 201.29 L613.5 201.05 L614.0 200.78 L614.5 200.47 L614.9 200.13 L615.4 199.76 L615.9 199.35 L616.3 198.90 L616.8 198.30 L617.2 197.53 L617.7 196.61 L618.2 195.57 L618.6 194.44 L619.1 193.24 L619.6 191.99 L620.0 190.72 L620.5 189.40 L620.9 187.91 L621.4 186.30 L621.9 184.60 L622.3 182.86 L622.8 181.10 L623.3 179.38 L623.7 177.68 L624.2 175.96 L624.6 174.21 L625.1 172.45 L625.6 170.68 L626.0 168.90 L626.5 167.13 L627.0 165.41 L627.4 163.72 L627.9 161.99 L628.3 160.19 L628.8 158.25 L629.3 156.13 L629.7 153.89 L630.2 151.56 L630.7 149.15 L631.1 146.64 L631.6 144.03 L632.0 141.31 L632.5 138.47 L633.0 135.50 L633.4 132.40 L633.9 129.15 L634.4 125.76 L634.8 122.20 L635.3 118.48 L635.7 114.59 L636.2 110.49 L636.7 105.57 L637.1 99.77 L637.6 93.38 L638.1 86.65 L638.5 79.86 L639.0 73.26 L639.4 67.13 L639.9 61.74 L640.4 57.29 L640.8 53.39 L641.3 49.86 L641.8 46.64 L642.2 43.67 L642.7 40.99 L643.1 38.57 L643.6 36.23 L644.1 33.75 L644.5 31.21 L645.0 28.90 L645.5 27.13 L645.9 25.96 L646.4 24.91 L646.8 24.06 L647.3 23.54 L647.8 23.46 L648.2 23.64 L648.7 23.98 L649.2 24.45 L649.6 25.01 L650.1 25.63 L650.5 26.43 L651.0 27.58 L651.5 28.99 L651.9 30.59 L652.4 32.32 L652.9 34.09 L653.3 35.83 L653.8 37.67 L654.2 39.64 L654.7 41.73 L655.2 43.95 L655.6 46.28 L656.1 48.72 L656.6 51.31 L657.0 54.08 L657.5 57.03 L657.9 60.17 L658.4 63.53 L658.9 67.16 L659.3 71.03 L659.8 75.11 L660.3 79.37 L660.7 83.76 L661.2 88.27 L661.6 92.86 L662.1 97.48 L662.6 102.12 L663.0 106.72 L663.5 111.48 L664.0 116.46 L664.4 121.61 L664.9 126.84 L665.3 132.09 L665.8 137.28 L666.3 142.35 L666.7 147.22 L667.2 151.82 L667.7 156.08 L668.1 160.25 L668.6 164.41 L669.0 168.40 L669.5 172.06 L670.0 175.24 L670.4 177.80 L670.9 179.81 L671.4 181.60 L671.8 183.20 L672.3 184.64 L672.7 185.95 L673.2 187.16 L673.7 188.29 L674.1 189.37 L674.6 190.42 L675.1 191.44 L675.5 192.43 L676.0 193.37 L676.4 194.26 L676.9 195.10 L677.4 195.89 L677.8 196.62 L678.3 197.29 L678.8 197.89 L679.2 198.41 L679.7 198.90 L680.1 199.37 L680.6 199.80 L681.1 200.22 L681.5 200.61 L682.0 200.98 L682.5 201.32 L682.9 201.64 L683.4 201.95 L683.8 202.22 L684.3 202.48 L684.8 202.72 L685.2 202.95 L685.7 203.16 L686.2 203.37 L686.6 203.57 L687.1 203.76 L687.5 203.95 L688.0 204.12 L688.5 204.29 L688.9 204.45 L689.4 204.60 L689.9 204.75 L690.3 204.89 L690.8 205.02 L691.2 205.15 L691.7 205.27 L692.2 205.38 L692.6 205.49 L693.1 205.59 L693.6 205.69 L694.0 205.79 L694.5 205.88 L694.9 205.98 L695.4 206.07 L695.9 206.15 L696.3 206.24 L696.8 206.31 L697.3 206.38 L697.7 206.45 L698.2 206.50 L698.6 206.55 L699.1 206.59 L699.6 206.62 L700.0 206.65 L700.5 206.68" fill="none" stroke="#ffd83c" stroke-width="1.4" stroke-linejoin="round" stroke-linecap="round"/>
<path d="M377.2 205.34 L377.7 205.34 L378.1 205.34 L378.6 205.34 L379.1 205.34 L379.5 205.34 L380.0 205.34 L380.4 205.34 L380.9 205.34 L381.4 205.34 L381.8 205.34 L382.3 205.34 L382.8 205.34 L383.2 205.34 L383.7 205.34 L384.1 205.34 L384.6 205.34 L385.1 205.34 L385.5 205.34 L386.0 205.34 L386.5 205.34 L386.9 205.34 L387.4 205.34 L387.8 205.34 L388.3 205.34 L388.8 205.34 L389.2 205.34 L389.7 205.34 L390.2 205.34 L390.6 205.34 L391.1 205.34 L391.5 205.34 L392.0 205.34 L392.5 205.34 L392.9 205.34 L393.4 205.34 L393.9 205.34 L394.3 205.34 L394.8 205.34 L395.2 205.34 L395.7 205.34 L396.2 205.34 L396.6 205.34 L397.1 205.34 L397.6 205.34 L398.0 205.33 L398.5 205.33 L398.9 205.33 L399.4 205.32 L399.9 205.32 L400.3 205.31 L400.8 205.30 L401.3 205.29 L401.7 205.28 L402.2 205.26 L402.6 205.24 L403.1 205.22 L403.6 205.19 L404.0 205.16 L404.5 205.12 L405.0 205.07 L405.4 205.02 L405.9 204.95 L406.3 204.88 L406.8 204.79 L407.3 204.69 L407.7 204.57 L408.2 204.43 L408.7 204.27 L409.1 204.09 L409.6 203.89 L410.0 203.66 L410.5 203.41 L411.0 203.12 L411.4 202.80 L411.9 202.45 L412.4 202.06 L412.8 201.63 L413.3 201.16 L413.7 200.65 L414.2 200.11 L414.7 199.52 L415.1 198.89 L415.6 198.22 L416.1 197.51 L416.5 196.77 L417.0 196.00 L417.4 195.19 L417.9 194.36 L418.4 193.51 L418.8 192.64 L419.3 191.76 L419.8 190.88 L420.2 190.01 L420.7 189.14 L421.1 188.30 L421.6 187.48 L422.1 186.69 L422.5 185.95 L423.0 185.26 L423.5 184.63 L423.9 184.06 L424.4 183.56 L424.8 183.14 L425.3 182.80 L425.8 182.55 L426.2 182.38 L426.7 182.31 L427.2 182.32 L427.6 182.40 L428.1 182.55 L428.5 182.77 L429.0 183.06 L429.5 183.40 L429.9 183.81 L430.4 184.27 L430.9 184.79 L431.3 185.35 L431.8 185.96 L432.2 186.60 L432.7 187.28 L433.2 187.98 L433.6 188.71 L434.1 189.46 L434.6 190.21 L435.0 190.97 L435.5 191.73 L435.9 192.49 L436.4 193.24 L436.9 193.98 L437.3 194.70 L437.8 195.40 L438.3 196.08 L438.7 196.73 L439.2 197.35 L439.6 197.94 L440.1 198.50 L440.6 199.02 L441.0 199.51 L441.5 199.97 L442.0 200.39 L442.4 200.78 L442.9 201.13 L443.3 201.46 L443.8 201.75 L444.3 202.01 L444.7 202.25 L445.2 202.47 L445.7 202.66 L446.1 202.84 L446.6 203.00 L447.0 203.15 L447.5 203.28 L448.0 203.41 L448.4 203.53 L448.9 203.64 L449.4 203.74 L449.8 203.84 L450.3 203.93 L450.7 204.01 L451.2 204.09 L451.7 204.16 L452.1 204.23 L452.6 204.30 L453.1 204.36 L453.5 204.42 L454.0 204.48 L454.4 204.53 L454.9 204.59 L455.4 204.64 L455.8 204.69 L456.3 204.74 L456.8 204.78 L457.2 204.83 L457.7 204.87 L458.1 204.91 L458.6 204.95 L459.1 204.98 L459.5 205.02 L460.0 205.05 L460.5 205.08 L460.9 205.11 L461.4 205.13 L461.8 205.16 L462.3 205.18 L462.8 205.20 L463.2 205.21 L463.7 205.23 L464.2 205.24 L464.6 205.26 L465.1 205.27 L465.5 205.28 L466.0 205.29 L466.5 205.30 L466.9 205.30 L467.4 205.31 L467.9 205.31 L468.3 205.32 L468.8 205.32 L469.2 205.33 L469.7 205.33 L470.2 205.33 L470.6 205.33 L471.1 205.33 L471.6 205.33 L472.0 205.33 L472.5 205.33 L472.9 205.32 L473.4 205.32 L473.9 205.31 L474.3 205.30 L474.8 205.29 L475.3 205.28 L475.7 205.27 L476.2 205.25 L476.6 205.23 L477.1 205.20 L477.6 205.17 L478.0 205.14 L478.5 205.09 L479.0 205.04 L479.4 204.98 L479.9 204.92 L480.3 204.84 L480.8 204.75 L481.3 204.64 L481.7 204.52 L482.2 204.39 L482.7 204.23 L483.1 204.06 L483.6 203.87 L484.0 203.65 L484.5 203.42 L485.0 203.16 L485.4 202.87 L485.9 202.56 L486.4 202.23 L486.8 201.86 L487.3 201.48 L487.7 201.06 L488.2 200.62 L488.7 200.16 L489.1 199.68 L489.6 199.17 L490.1 198.65 L490.5 198.11 L491.0 197.56 L491.4 197.00 L491.9 196.44 L492.4 195.87 L492.8 195.31 L493.3 194.75 L493.8 194.21 L494.2 193.68 L494.7 193.17 L495.1 192.68 L495.6 192.22 L496.1 191.80 L496.5 191.41 L497.0 191.06 L497.5 190.75 L497.9 190.48 L498.4 190.25 L498.8 190.08 L499.3 189.94 L499.8 189.85 L500.2 189.80 L500.7 189.79 L501.2 189.82 L501.6 189.89 L502.1 190.00 L502.5 190.18 L503.0 190.40 L503.5 190.67 L503.9 190.99 L504.4 191.36 L504.9 191.77 L505.3 192.22 L505.8 192.70 L506.2 193.22 L506.7 193.75 L507.2 194.30 L507.6 194.86 L508.1 195.43 L508.6 195.99 L509.0 196.54 L509.5 197.07 L509.9 197.58 L510.4 198.06 L510.9 198.52 L511.3 198.93 L511.8 199.32 L512.3 199.67 L512.7 199.98 L513.2 200.27 L513.6 200.52 L514.1 200.76 L514.6 200.97 L515.0 201.17 L515.5 201.37 L516.0 201.56 L516.4 201.76 L516.9 201.95 L517.3 202.15 L517.8 202.32 L518.3 202.48 L518.7 202.64 L519.2 202.78 L519.7 202.91 L520.1 203.04 L520.6 203.16 L521.0 203.27 L521.5 203.38 L522.0 203.48 L522.4 203.59 L522.9 203.68 L523.4 203.78 L523.8 203.87 L524.3 203.96 L524.7 204.04 L525.2 204.12 L525.7 204.20 L526.1 204.27 L526.6 204.34 L527.1 204.41 L527.5 204.47 L528.0 204.53 L528.4 204.59 L528.9 204.64 L529.4 204.69 L529.8 204.73 L530.3 204.77 L530.8 204.80 L531.2 204.83 L531.7 204.86 L532.1 204.88 L532.6 204.89 L533.1 204.91 L533.5 204.92 L534.0 204.92 L534.5 204.93 L534.9 204.93 L535.4 204.92 L535.8 204.92 L536.3 204.91 L536.8 204.90 L537.2 204.88 L537.7 204.87 L538.2 204.85 L538.6 204.83 L539.1 204.80 L539.5 204.78 L540.0 204.75 L540.5 204.72 L540.9 204.69 L541.4 204.66 L541.9 204.63 L542.3 204.59 L542.8 204.56 L543.2 204.52 L543.7 204.48 L544.2 204.44 L544.6 204.39 L545.1 204.35 L545.6 204.31 L546.0 204.26 L546.5 204.21 L546.9 204.16 L547.4 204.11 L547.9 204.06 L548.3 204.01 L548.8 203.96 L549.3 203.90 L549.7 203.85 L550.2 203.79 L550.6 203.74 L551.1 203.68 L551.6 203.62 L552.0 203.56 L552.5 203.50 L553.0 203.44 L553.4 203.37 L553.9 203.31 L554.3 203.25 L554.8 203.18 L555.3 203.12 L555.7 203.05 L556.2 202.98 L556.7 202.92 L557.1 202.85 L557.6 202.78 L558.0 202.71 L558.5 202.63 L559.0 202.56 L559.4 202.49 L559.9 202.41 L560.4 202.33 L560.8 202.25 L561.3 202.17 L561.7 202.09 L562.2 202.01 L562.7 201.92 L563.1 201.83 L563.6 201.74 L564.1 201.65 L564.5 201.55 L565.0 201.45 L565.4 201.35 L565.9 201.24 L566.4 201.13 L566.8 201.02 L567.3 200.91 L567.8 200.79 L568.2 200.67 L568.7 200.55 L569.1 200.43 L569.6 200.30 L570.1 200.18 L570.5 200.05 L571.0 199.92 L571.5 199.79 L571.9 199.66 L572.4 199.53 L572.8 199.39 L573.3 199.26 L573.8 199.12 L574.2 198.98 L574.7 198.84 L575.2 198.70 L575.6 198.56 L576.1 198.42 L576.5 198.28 L577.0 198.14 L577.5 198.00 L577.9 197.86 L578.4 197.73 L578.9 197.59 L579.3 197.47 L579.8 197.34 L580.2 197.22 L580.7 197.10 L581.2 196.99 L581.6 196.89 L582.1 196.79 L582.6 196.69 L583.0 196.61 L583.5 196.53 L583.9 196.47 L584.4 196.41 L584.9 196.36 L585.3 196.32 L585.8 196.30 L586.3 196.28 L586.7 196.27 L587.2 196.28 L587.6 196.30 L588.1 196.33 L588.6 196.37 L589.0 196.42 L589.5 196.50 L590.0 196.58 L590.4 196.68 L590.9 196.80 L591.3 196.93 L591.8 197.07 L592.3 197.22 L592.7 197.39 L593.2 197.57 L593.7 197.75 L594.1 197.95 L594.6 198.16 L595.0 198.37 L595.5 198.59 L596.0 198.81 L596.4 199.03 L596.9 199.24 L597.4 199.46 L597.8 199.66 L598.3 199.87 L598.7 200.07 L599.2 200.26 L599.7 200.45 L600.1 200.63 L600.6 200.81 L601.1 200.97 L601.5 201.14 L602.0 201.29 L602.4 201.44 L602.9 201.59 L603.4 201.73 L603.8 201.86 L604.3 201.99 L604.8 202.10 L605.2 202.20 L605.7 202.28 L606.1 202.35 L606.6 202.41 L607.1 202.46 L607.5 202.49 L608.0 202.51 L608.5 202.51 L608.9 202.50 L609.4 202.48 L609.8 202.44 L610.3 202.37 L610.8 202.28 L611.2 202.17 L611.7 202.02 L612.2 201.84 L612.6 201.64 L613.1 201.40 L613.5 201.14 L614.0 200.84 L614.5 200.51 L614.9 200.14 L615.4 199.74 L615.9 199.31 L616.3 198.81 L616.8 198.13 L617.2 197.29 L617.7 196.32 L618.2 195.24 L618.6 194.08 L619.1 192.86 L619.6 191.61 L620.0 190.34 L620.5 188.95 L620.9 187.42 L621.4 185.78 L621.9 184.07 L622.3 182.33 L622.8 180.60 L623.3 178.91 L623.7 177.22 L624.2 175.50 L624.6 173.76 L625.1 172.01 L625.6 170.26 L626.0 168.49 L626.5 166.75 L627.0 165.07 L627.4 163.38 L627.9 161.65 L628.3 159.81 L628.8 157.82 L629.3 155.65 L629.7 153.39 L630.2 151.05 L630.7 148.62 L631.1 146.10 L631.6 143.46 L632.0 140.72 L632.5 137.85 L633.0 134.85 L633.4 131.72 L633.9 128.45 L634.4 125.02 L634.8 121.43 L635.3 117.67 L635.7 113.74 L636.2 109.41 L636.7 104.13 L637.1 98.10 L637.6 91.59 L638.1 84.87 L638.5 78.19 L639.0 71.82 L639.4 66.04 L639.9 61.09 L640.4 56.98 L640.8 53.28 L641.3 49.92 L641.8 46.85 L642.2 44.02 L642.7 41.50 L643.1 39.15 L643.6 36.80 L644.1 34.28 L644.5 31.83 L645.0 29.73 L645.5 28.30 L645.9 27.20 L646.4 26.23 L646.8 25.51 L647.3 25.18 L647.8 25.24 L648.2 25.49 L648.7 25.89 L649.2 26.40 L649.6 26.99 L650.1 27.63 L650.5 28.59 L651.0 29.84 L651.5 31.33 L651.9 32.98 L652.4 34.72 L652.9 36.47 L653.3 38.21 L653.8 40.09 L654.2 42.10 L654.7 44.23 L655.2 46.47 L655.6 48.83 L656.1 51.30 L656.6 53.94 L657.0 56.76 L657.5 59.76 L657.9 62.96 L658.4 66.41 L658.9 70.11 L659.3 74.03 L659.8 78.15 L660.3 82.44 L660.7 86.84 L661.2 91.35 L661.6 95.91 L662.1 100.50 L662.6 105.08 L663.0 109.67 L663.5 114.49 L664.0 119.50 L664.4 124.64 L664.9 129.84 L665.3 135.03 L665.8 140.13 L666.3 145.07 L666.7 149.79 L667.2 154.20 L667.7 158.34 L668.1 162.49 L668.6 166.55 L669.0 170.37 L669.5 173.82 L670.0 176.72 L670.4 178.97 L670.9 180.86 L671.4 182.54 L671.8 184.06 L672.3 185.43 L672.7 186.68 L673.2 187.84 L673.7 188.93 L674.1 189.99 L674.6 191.02 L675.1 192.01 L675.5 192.97 L676.0 193.88 L676.4 194.75 L676.9 195.56 L677.4 196.32 L677.8 197.01 L678.3 197.64 L678.8 198.20 L679.2 198.71 L679.7 199.18 L680.1 199.63 L680.6 200.05 L681.1 200.45 L681.5 200.83 L682.0 201.18 L682.5 201.52 L682.9 201.83 L683.4 202.11 L683.8 202.38 L684.3 202.63 L684.8 202.86 L685.2 203.08 L685.7 203.29 L686.2 203.49 L686.6 203.68 L687.1 203.87 L687.5 204.05 L688.0 204.22 L688.5 204.38 L688.9 204.54 L689.4 204.69 L689.9 204.83 L690.3 204.97 L690.8 205.10 L691.2 205.22 L691.7 205.33 L692.2 205.44 L692.6 205.55 L693.1 205.64 L693.6 205.74 L694.0 205.84 L694.5 205.93 L694.9 206.03 L695.4 206.11 L695.9 206.20 L696.3 206.27 L696.8 206.35 L697.3 206.41 L697.7 206.47 L698.2 206.53 L698.6 206.57 L699.1 206.61 L699.6 206.64 L700.0 206.66 L700.5 206.69" fill="none" stroke="#1fe61f" stroke-width="1.4" stroke-linejoin="round" stroke-linecap="round"/>
<path d="M377.2 204.94 L377.7 204.94 L378.1 204.94 L378.6 204.94 L379.1 204.94 L379.5 204.94 L380.0 204.94 L380.4 204.94 L380.9 204.94 L381.4 204.94 L381.8 204.94 L382.3 204.94 L382.8 204.94 L383.2 204.94 L383.7 204.94 L384.1 204.94 L384.6 204.94 L385.1 204.94 L385.5 204.94 L386.0 204.94 L386.5 204.94 L386.9 204.94 L387.4 204.94 L387.8 204.94 L388.3 204.94 L388.8 204.94 L389.2 204.94 L389.7 204.94 L390.2 204.94 L390.6 204.94 L391.1 204.94 L391.5 204.94 L392.0 204.94 L392.5 204.94 L392.9 204.94 L393.4 204.94 L393.9 204.94 L394.3 204.94 L394.8 204.94 L395.2 204.94 L395.7 204.94 L396.2 204.94 L396.6 204.93 L397.1 204.93 L397.6 204.93 L398.0 204.93 L398.5 204.93 L398.9 204.93 L399.4 204.93 L399.9 204.93 L400.3 204.92 L400.8 204.92 L401.3 204.91 L401.7 204.90 L402.2 204.89 L402.6 204.87 L403.1 204.84 L403.6 204.81 L404.0 204.77 L404.5 204.72 L405.0 204.66 L405.4 204.59 L405.9 204.50 L406.3 204.39 L406.8 204.27 L407.3 204.12 L407.7 203.95 L408.2 203.76 L408.7 203.53 L409.1 203.27 L409.6 202.97 L410.0 202.63 L410.5 202.25 L411.0 201.83 L411.4 201.35 L411.9 200.82 L412.4 200.24 L412.8 199.60 L413.3 198.89 L413.7 198.13 L414.2 197.30 L414.7 196.42 L415.1 195.46 L415.6 194.45 L416.1 193.39 L416.5 192.26 L417.0 191.09 L417.4 189.87 L417.9 188.61 L418.4 187.33 L418.8 186.01 L419.3 184.69 L419.8 183.36 L420.2 182.03 L420.7 180.72 L421.1 179.44 L421.6 178.20 L422.1 177.02 L422.5 175.90 L423.0 174.85 L423.5 173.89 L423.9 173.04 L424.4 172.28 L424.8 171.65 L425.3 171.13 L425.8 170.75 L426.2 170.50 L426.7 170.39 L427.2 170.41 L427.6 170.53 L428.1 170.76 L428.5 171.09 L429.0 171.52 L429.5 172.04 L429.9 172.66 L430.4 173.36 L430.9 174.14 L431.3 174.99 L431.8 175.91 L432.2 176.88 L432.7 177.91 L433.2 178.97 L433.6 180.07 L434.1 181.20 L434.6 182.34 L435.0 183.49 L435.5 184.64 L435.9 185.79 L436.4 186.93 L436.9 188.04 L437.3 189.13 L437.8 190.19 L438.3 191.22 L438.7 192.20 L439.2 193.14 L439.6 194.03 L440.1 194.88 L440.6 195.67 L441.0 196.41 L441.5 197.10 L442.0 197.74 L442.4 198.32 L442.9 198.86 L443.3 199.35 L443.8 199.79 L444.3 200.19 L444.7 200.55 L445.2 200.88 L445.7 201.18 L446.1 201.44 L446.6 201.69 L447.0 201.91 L447.5 202.11 L448.0 202.30 L448.4 202.48 L448.9 202.65 L449.4 202.81 L449.8 202.95 L450.3 203.09 L450.7 203.21 L451.2 203.33 L451.7 203.44 L452.1 203.54 L452.6 203.64 L453.1 203.74 L453.5 203.83 L454.0 203.92 L454.4 204.00 L454.9 204.08 L455.4 204.16 L455.8 204.24 L456.3 204.31 L456.8 204.38 L457.2 204.45 L457.7 204.51 L458.1 204.57 L458.6 204.63 L459.1 204.68 L459.5 204.73 L460.0 204.78 L460.5 204.83 L460.9 204.87 L461.4 204.91 L461.8 204.94 L462.3 204.98 L462.8 205.01 L463.2 205.03 L463.7 205.06 L464.2 205.08 L464.6 205.10 L465.1 205.12 L465.5 205.13 L466.0 205.15 L466.5 205.16 L466.9 205.17 L467.4 205.18 L467.9 205.18 L468.3 205.19 L468.8 205.20 L469.2 205.20 L469.7 205.21 L470.2 205.21 L470.6 205.21 L471.1 205.21 L471.6 205.21 L472.0 205.21 L472.5 205.21 L472.9 205.21 L473.4 205.20 L473.9 205.20 L474.3 205.19 L474.8 205.18 L475.3 205.17 L475.7 205.16 L476.2 205.14 L476.6 205.12 L477.1 205.10 L477.6 205.07 L478.0 205.04 L478.5 205.00 L479.0 204.95 L479.4 204.90 L479.9 204.84 L480.3 204.76 L480.8 204.68 L481.3 204.59 L481.7 204.48 L482.2 204.35 L482.7 204.21 L483.1 204.05 L483.6 203.88 L484.0 203.68 L484.5 203.47 L485.0 203.23 L485.4 202.97 L485.9 202.68 L486.4 202.38 L486.8 202.04 L487.3 201.69 L487.7 201.31 L488.2 200.91 L488.7 200.49 L489.1 200.04 L489.6 199.58 L490.1 199.10 L490.5 198.61 L491.0 198.11 L491.4 197.60 L491.9 197.08 L492.4 196.56 L492.8 196.05 L493.3 195.54 L493.8 195.04 L494.2 194.55 L494.7 194.09 L495.1 193.64 L495.6 193.23 L496.1 192.84 L496.5 192.48 L497.0 192.16 L497.5 191.87 L497.9 191.63 L498.4 191.42 L498.8 191.26 L499.3 191.14 L499.8 191.06 L500.2 191.01 L500.7 191.00 L501.2 191.02 L501.6 191.09 L502.1 191.20 L502.5 191.35 L503.0 191.55 L503.5 191.80 L503.9 192.10 L504.4 192.43 L504.9 192.81 L505.3 193.22 L505.8 193.66 L506.2 194.13 L506.7 194.62 L507.2 195.12 L507.6 195.63 L508.1 196.14 L508.6 196.65 L509.0 197.15 L509.5 197.63 L509.9 198.09 L510.4 198.52 L510.9 198.93 L511.3 199.30 L511.8 199.64 L512.3 199.95 L512.7 200.22 L513.2 200.47 L513.6 200.69 L514.1 200.89 L514.6 201.08 L515.0 201.25 L515.5 201.42 L516.0 201.59 L516.4 201.77 L516.9 201.95 L517.3 202.12 L517.8 202.29 L518.3 202.44 L518.7 202.58 L519.2 202.71 L519.7 202.84 L520.1 202.95 L520.6 203.07 L521.0 203.18 L521.5 203.28 L522.0 203.38 L522.4 203.48 L522.9 203.57 L523.4 203.67 L523.8 203.75 L524.3 203.84 L524.7 203.92 L525.2 204.00 L525.7 204.08 L526.1 204.15 L526.6 204.22 L527.1 204.29 L527.5 204.35 L528.0 204.41 L528.4 204.46 L528.9 204.51 L529.4 204.56 L529.8 204.60 L530.3 204.64 L530.8 204.67 L531.2 204.70 L531.7 204.72 L532.1 204.74 L532.6 204.76 L533.1 204.77 L533.5 204.78 L534.0 204.78 L534.5 204.78 L534.9 204.78 L535.4 204.78 L535.8 204.77 L536.3 204.76 L536.8 204.74 L537.2 204.73 L537.7 204.71 L538.2 204.69 L538.6 204.66 L539.1 204.64 L539.5 204.61 L540.0 204.58 L540.5 204.55 L540.9 204.52 L541.4 204.48 L541.9 204.44 L542.3 204.40 L542.8 204.36 L543.2 204.32 L543.7 204.28 L544.2 204.23 L544.6 204.19 L545.1 204.14 L545.6 204.09 L546.0 204.04 L546.5 203.99 L546.9 203.93 L547.4 203.88 L547.9 203.82 L548.3 203.77 L548.8 203.71 L549.3 203.65 L549.7 203.59 L550.2 203.53 L550.6 203.47 L551.1 203.40 L551.6 203.34 L552.0 203.27 L552.5 203.21 L553.0 203.14 L553.4 203.08 L553.9 203.01 L554.3 202.94 L554.8 202.87 L555.3 202.80 L555.7 202.73 L556.2 202.66 L556.7 202.58 L557.1 202.51 L557.6 202.44 L558.0 202.36 L558.5 202.28 L559.0 202.21 L559.4 202.13 L559.9 202.05 L560.4 201.96 L560.8 201.88 L561.3 201.79 L561.7 201.70 L562.2 201.61 L562.7 201.52 L563.1 201.43 L563.6 201.33 L564.1 201.23 L564.5 201.12 L565.0 201.02 L565.4 200.91 L565.9 200.79 L566.4 200.67 L566.8 200.55 L567.3 200.42 L567.8 200.29 L568.2 200.16 L568.7 200.02 L569.1 199.88 L569.6 199.74 L570.1 199.60 L570.5 199.45 L571.0 199.30 L571.5 199.15 L571.9 198.99 L572.4 198.83 L572.8 198.66 L573.3 198.50 L573.8 198.33 L574.2 198.15 L574.7 197.98 L575.2 197.80 L575.6 197.61 L576.1 197.43 L576.5 197.25 L577.0 197.06 L577.5 196.87 L577.9 196.69 L578.4 196.50 L578.9 196.31 L579.3 196.13 L579.8 195.94 L580.2 195.77 L580.7 195.59 L581.2 195.42 L581.6 195.25 L582.1 195.09 L582.6 194.94 L583.0 194.80 L583.5 194.66 L583.9 194.53 L584.4 194.42 L584.9 194.31 L585.3 194.21 L585.8 194.13 L586.3 194.06 L586.7 194.01 L587.2 193.96 L587.6 193.94 L588.1 193.92 L588.6 193.92 L589.0 193.94 L589.5 193.97 L590.0 194.03 L590.4 194.10 L590.9 194.19 L591.3 194.31 L591.8 194.44 L592.3 194.60 L592.7 194.77 L593.2 194.96 L593.7 195.17 L594.1 195.40 L594.6 195.64 L595.0 195.89 L595.5 196.16 L596.0 196.43 L596.4 196.72 L596.9 197.01 L597.4 197.30 L597.8 197.59 L598.3 197.88 L598.7 198.16 L599.2 198.45 L599.7 198.72 L600.1 198.99 L600.6 199.25 L601.1 199.51 L601.5 199.76 L602.0 200.00 L602.4 200.23 L602.9 200.46 L603.4 200.68 L603.8 200.89 L604.3 201.09 L604.8 201.28 L605.2 201.46 L605.7 201.63 L606.1 201.78 L606.6 201.92 L607.1 202.04 L607.5 202.14 L608.0 202.23 L608.5 202.30 L608.9 202.36 L609.4 202.40 L609.8 202.42 L610.3 202.43 L610.8 202.42 L611.2 202.39 L611.7 202.34 L612.2 202.25 L612.6 202.14 L613.1 202.00 L613.5 201.83 L614.0 201.63 L614.5 201.39 L614.9 201.13 L615.4 200.83 L615.9 200.50 L616.3 200.14 L616.8 199.75 L617.2 199.31 L617.7 198.73 L618.2 197.98 L618.6 197.10 L619.1 196.11 L619.6 195.03 L620.0 193.88 L620.5 192.69 L620.9 191.49 L621.4 190.22 L621.9 188.80 L622.3 187.27 L622.8 185.65 L623.3 183.99 L623.7 182.33 L624.2 180.70 L624.6 179.08 L625.1 177.44 L625.6 175.79 L626.0 174.11 L626.5 172.43 L627.0 170.74 L627.4 169.06 L627.9 167.43 L628.3 165.82 L628.8 164.18 L629.3 162.46 L629.7 160.61 L630.2 158.59 L630.7 156.45 L631.1 154.24 L631.6 151.94 L632.0 149.56 L632.5 147.07 L633.0 144.48 L633.4 141.77 L633.9 138.94 L634.4 135.99 L634.8 132.90 L635.3 129.66 L635.7 126.27 L636.2 122.73 L636.7 119.02 L637.1 115.10 L637.6 110.38 L638.1 104.84 L638.5 98.74 L639.0 92.34 L639.4 85.89 L639.9 79.65 L640.4 73.86 L640.8 68.78 L641.3 64.60 L641.8 60.91 L642.2 57.58 L642.7 54.53 L643.1 51.72 L643.6 49.20 L644.1 46.91 L644.5 44.69 L645.0 42.32 L645.5 39.90 L645.9 37.73 L646.4 36.09 L646.8 34.99 L647.3 34.00 L647.8 33.21 L648.2 32.74 L648.7 32.68 L649.2 32.86 L649.6 33.19 L650.1 33.65 L650.5 34.18 L651.0 34.76 L651.5 35.55 L651.9 36.65 L652.4 38.01 L652.9 39.54 L653.3 41.18 L653.8 42.86 L654.2 44.52 L654.7 46.27 L655.2 48.14 L655.6 50.14 L656.1 52.25 L656.6 54.47 L657.0 56.80 L657.5 59.27 L657.9 61.90 L658.4 64.71 L658.9 67.71 L659.3 70.92 L659.8 74.37 L660.3 78.06 L660.7 81.94 L661.2 86.00 L661.6 90.18 L662.1 94.47 L662.6 98.82 L663.0 103.22 L663.5 107.62 L664.0 111.99 L664.4 116.52 L664.9 121.27 L665.3 126.16 L665.8 131.13 L666.3 136.11 L666.7 141.04 L667.2 145.85 L667.7 150.46 L668.1 154.81 L668.6 158.84 L669.0 162.81 L669.5 166.76 L670.0 170.53 L670.4 173.98 L670.9 176.98 L671.4 179.38 L671.8 181.27 L672.3 182.96 L672.7 184.47 L673.2 185.83 L673.7 187.07 L674.1 188.21 L674.6 189.28 L675.1 190.31 L675.5 191.31 L676.0 192.27 L676.4 193.20 L676.9 194.09 L677.4 194.94 L677.8 195.74 L678.3 196.48 L678.8 197.17 L679.2 197.80 L679.7 198.37 L680.1 198.87 L680.6 199.33 L681.1 199.77 L681.5 200.18 L682.0 200.57 L682.5 200.94 L682.9 201.29 L683.4 201.62 L683.8 201.92 L684.3 202.21 L684.8 202.47 L685.2 202.72 L685.7 202.94 L686.2 203.16 L686.6 203.36 L687.1 203.56 L687.5 203.75 L688.0 203.93 L688.5 204.10 L688.9 204.27 L689.4 204.43 L689.9 204.58 L690.3 204.73 L690.8 204.87 L691.2 205.00 L691.7 205.12 L692.2 205.24 L692.6 205.36 L693.1 205.46 L693.6 205.56 L694.0 205.66 L694.5 205.76 L694.9 205.85 L695.4 205.94 L695.9 206.03 L696.3 206.11 L696.8 206.20 L697.3 206.27 L697.7 206.34 L698.2 206.41 L698.6 206.47 L699.1 206.52 L699.6 206.57 L700.0 206.61 L700.5 206.64" fill="none" stroke="#f02222" stroke-width="1.4" stroke-linejoin="round" stroke-linecap="round"/>
<path d="M377.2 203.67 L377.7 203.67 L378.1 203.67 L378.6 203.67 L379.1 203.67 L379.5 203.67 L380.0 203.67 L380.4 203.67 L380.9 203.67 L381.4 203.67 L381.8 203.67 L382.3 203.67 L382.8 203.67 L383.2 203.67 L383.7 203.67 L384.1 203.67 L384.6 203.67 L385.1 203.67 L385.5 203.67 L386.0 203.67 L386.5 203.67 L386.9 203.67 L387.4 203.67 L387.8 203.67 L388.3 203.67 L388.8 203.67 L389.2 203.67 L389.7 203.67 L390.2 203.67 L390.6 203.67 L391.1 203.67 L391.5 203.67 L392.0 203.67 L392.5 203.67 L392.9 203.67 L393.4 203.67 L393.9 203.67 L394.3 203.67 L394.8 203.67 L395.2 203.67 L395.7 203.67 L396.2 203.67 L396.6 203.67 L397.1 203.67 L397.6 203.68 L398.0 203.69 L398.5 203.71 L398.9 203.73 L399.4 203.75 L399.9 203.77 L400.3 203.79 L400.8 203.82 L401.3 203.84 L401.7 203.85 L402.2 203.87 L402.6 203.88 L403.1 203.88 L403.6 203.87 L404.0 203.85 L404.5 203.81 L405.0 203.76 L405.4 203.69 L405.9 203.59 L406.3 203.47 L406.8 203.32 L407.3 203.13 L407.7 202.90 L408.2 202.63 L408.7 202.31 L409.1 201.94 L409.6 201.50 L410.0 201.00 L410.5 200.44 L411.0 199.79 L411.4 199.06 L411.9 198.25 L412.4 197.35 L412.8 196.35 L413.3 195.25 L413.7 194.06 L414.2 192.76 L414.7 191.36 L415.1 189.85 L415.6 188.25 L416.1 186.55 L416.5 184.77 L417.0 182.91 L417.4 180.97 L417.9 178.98 L418.4 176.93 L418.8 174.85 L419.3 172.75 L419.8 170.64 L420.2 168.53 L420.7 166.46 L421.1 164.43 L421.6 162.46 L422.1 160.58 L422.5 158.80 L423.0 157.14 L423.5 155.62 L423.9 154.26 L424.4 153.07 L424.8 152.06 L425.3 151.24 L425.8 150.63 L426.2 150.24 L426.7 150.06 L427.2 150.09 L427.6 150.29 L428.1 150.65 L428.5 151.17 L429.0 151.85 L429.5 152.69 L429.9 153.66 L430.4 154.77 L430.9 156.01 L431.3 157.36 L431.8 158.82 L432.2 160.36 L432.7 161.99 L433.2 163.68 L433.6 165.42 L434.1 167.21 L434.6 169.02 L435.0 170.85 L435.5 172.68 L435.9 174.50 L436.4 176.30 L436.9 178.07 L437.3 179.80 L437.8 181.49 L438.3 183.11 L438.7 184.67 L439.2 186.16 L439.6 187.58 L440.1 188.92 L440.6 190.18 L441.0 191.35 L441.5 192.45 L442.0 193.46 L442.4 194.38 L442.9 195.23 L443.3 196.01 L443.8 196.71 L444.3 197.35 L444.7 197.92 L445.2 198.44 L445.7 198.91 L446.1 199.34 L446.6 199.72 L447.0 200.07 L447.5 200.40 L448.0 200.70 L448.4 200.98 L448.9 201.25 L449.4 201.50 L449.8 201.73 L450.3 201.94 L450.7 202.14 L451.2 202.33 L451.7 202.50 L452.1 202.67 L452.6 202.83 L453.1 202.98 L453.5 203.12 L454.0 203.26 L454.4 203.40 L454.9 203.53 L455.4 203.65 L455.8 203.77 L456.3 203.89 L456.8 204.00 L457.2 204.10 L457.7 204.20 L458.1 204.30 L458.6 204.39 L459.1 204.48 L459.5 204.56 L460.0 204.64 L460.5 204.71 L460.9 204.77 L461.4 204.83 L461.8 204.89 L462.3 204.94 L462.8 204.99 L463.2 205.03 L463.7 205.07 L464.2 205.11 L464.6 205.14 L465.1 205.16 L465.5 205.19 L466.0 205.21 L466.5 205.23 L466.9 205.25 L467.4 205.26 L467.9 205.27 L468.3 205.29 L468.8 205.29 L469.2 205.30 L469.7 205.31 L470.2 205.31 L470.6 205.32 L471.1 205.32 L471.6 205.32 L472.0 205.33 L472.5 205.33 L472.9 205.33 L473.4 205.33 L473.9 205.32 L474.3 205.32 L474.8 205.32 L475.3 205.31 L475.7 205.31 L476.2 205.30 L476.6 205.29 L477.1 205.28 L477.6 205.26 L478.0 205.24 L478.5 205.22 L479.0 205.20 L479.4 205.17 L479.9 205.14 L480.3 205.10 L480.8 205.06 L481.3 205.01 L481.7 204.95 L482.2 204.88 L482.7 204.81 L483.1 204.73 L483.6 204.63 L484.0 204.53 L484.5 204.42 L485.0 204.29 L485.4 204.15 L485.9 204.00 L486.4 203.84 L486.8 203.67 L487.3 203.48 L487.7 203.28 L488.2 203.07 L488.7 202.85 L489.1 202.62 L489.6 202.37 L490.1 202.12 L490.5 201.86 L491.0 201.60 L491.4 201.33 L491.9 201.06 L492.4 200.78 L492.8 200.51 L493.3 200.24 L493.8 199.98 L494.2 199.73 L494.7 199.48 L495.1 199.25 L495.6 199.03 L496.1 198.82 L496.5 198.63 L497.0 198.47 L497.5 198.32 L497.9 198.19 L498.4 198.08 L498.8 197.99 L499.3 197.93 L499.8 197.88 L500.2 197.86 L500.7 197.86 L501.2 197.87 L501.6 197.90 L502.1 197.96 L502.5 198.04 L503.0 198.15 L503.5 198.28 L503.9 198.43 L504.4 198.61 L504.9 198.81 L505.3 199.02 L505.8 199.25 L506.2 199.50 L506.7 199.75 L507.2 200.01 L507.6 200.28 L508.1 200.54 L508.6 200.81 L509.0 201.06 L509.5 201.31 L509.9 201.54 L510.4 201.76 L510.9 201.96 L511.3 202.14 L511.8 202.30 L512.3 202.45 L512.7 202.58 L513.2 202.69 L513.6 202.79 L514.1 202.88 L514.6 202.96 L515.0 203.04 L515.5 203.11 L516.0 203.20 L516.4 203.28 L516.9 203.38 L517.3 203.47 L517.8 203.55 L518.3 203.63 L518.7 203.71 L519.2 203.78 L519.7 203.85 L520.1 203.92 L520.6 203.98 L521.0 204.04 L521.5 204.10 L522.0 204.16 L522.4 204.22 L522.9 204.27 L523.4 204.32 L523.8 204.38 L524.3 204.43 L524.7 204.48 L525.2 204.52 L525.7 204.57 L526.1 204.61 L526.6 204.65 L527.1 204.68 L527.5 204.72 L528.0 204.75 L528.4 204.78 L528.9 204.80 L529.4 204.83 L529.8 204.85 L530.3 204.86 L530.8 204.88 L531.2 204.89 L531.7 204.89 L532.1 204.89 L532.6 204.90 L533.1 204.89 L533.5 204.89 L534.0 204.88 L534.5 204.87 L534.9 204.85 L535.4 204.83 L535.8 204.81 L536.3 204.79 L536.8 204.77 L537.2 204.74 L537.7 204.71 L538.2 204.68 L538.6 204.64 L539.1 204.61 L539.5 204.57 L540.0 204.53 L540.5 204.48 L540.9 204.44 L541.4 204.39 L541.9 204.34 L542.3 204.29 L542.8 204.23 L543.2 204.18 L543.7 204.12 L544.2 204.06 L544.6 204.00 L545.1 203.94 L545.6 203.87 L546.0 203.80 L546.5 203.74 L546.9 203.67 L547.4 203.59 L547.9 203.52 L548.3 203.44 L548.8 203.37 L549.3 203.29 L549.7 203.21 L550.2 203.13 L550.6 203.04 L551.1 202.96 L551.6 202.87 L552.0 202.79 L552.5 202.70 L553.0 202.61 L553.4 202.52 L553.9 202.43 L554.3 202.34 L554.8 202.25 L555.3 202.16 L555.7 202.06 L556.2 201.97 L556.7 201.87 L557.1 201.78 L557.6 201.68 L558.0 201.59 L558.5 201.49 L559.0 201.39 L559.4 201.30 L559.9 201.20 L560.4 201.10 L560.8 201.01 L561.3 200.91 L561.7 200.81 L562.2 200.71 L562.7 200.62 L563.1 200.52 L563.6 200.42 L564.1 200.32 L564.5 200.22 L565.0 200.12 L565.4 200.03 L565.9 199.93 L566.4 199.83 L566.8 199.73 L567.3 199.63 L567.8 199.53 L568.2 199.44 L568.7 199.35 L569.1 199.26 L569.6 199.17 L570.1 199.08 L570.5 199.00 L571.0 198.92 L571.5 198.85 L571.9 198.77 L572.4 198.70 L572.8 198.63 L573.3 198.56 L573.8 198.49 L574.2 198.43 L574.7 198.36 L575.2 198.30 L575.6 198.24 L576.1 198.18 L576.5 198.12 L577.0 198.06 L577.5 198.01 L577.9 197.95 L578.4 197.90 L578.9 197.85 L579.3 197.80 L579.8 197.75 L580.2 197.70 L580.7 197.65 L581.2 197.60 L581.6 197.56 L582.1 197.52 L582.6 197.48 L583.0 197.44 L583.5 197.40 L583.9 197.37 L584.4 197.34 L584.9 197.32 L585.3 197.29 L585.8 197.27 L586.3 197.26 L586.7 197.25 L587.2 197.24 L587.6 197.24 L588.1 197.24 L588.6 197.25 L589.0 197.26 L589.5 197.28 L590.0 197.31 L590.4 197.34 L590.9 197.37 L591.3 197.42 L591.8 197.47 L592.3 197.54 L592.7 197.62 L593.2 197.71 L593.7 197.81 L594.1 197.92 L594.6 198.04 L595.0 198.18 L595.5 198.32 L596.0 198.47 L596.4 198.63 L596.9 198.79 L597.4 198.96 L597.8 199.13 L598.3 199.29 L598.7 199.46 L599.2 199.63 L599.7 199.79 L600.1 199.96 L600.6 200.12 L601.1 200.28 L601.5 200.43 L602.0 200.59 L602.4 200.74 L602.9 200.89 L603.4 201.04 L603.8 201.19 L604.3 201.33 L604.8 201.47 L605.2 201.61 L605.7 201.74 L606.1 201.86 L606.6 201.96 L607.1 202.06 L607.5 202.15 L608.0 202.23 L608.5 202.30 L608.9 202.35 L609.4 202.39 L609.8 202.42 L610.3 202.44 L610.8 202.44 L611.2 202.43 L611.7 202.40 L612.2 202.34 L612.6 202.25 L613.1 202.14 L613.5 202.01 L614.0 201.84 L614.5 201.65 L614.9 201.43 L615.4 201.18 L615.9 200.90 L616.3 200.59 L616.8 200.25 L617.2 199.87 L617.7 199.41 L618.2 198.79 L618.6 198.03 L619.1 197.16 L619.6 196.19 L620.0 195.15 L620.5 194.07 L620.9 192.96 L621.4 191.83 L621.9 190.57 L622.3 189.18 L622.8 187.71 L623.3 186.19 L623.7 184.64 L624.2 183.10 L624.6 181.60 L625.1 180.09 L625.6 178.55 L626.0 177.00 L626.5 175.44 L627.0 173.87 L627.4 172.29 L627.9 170.75 L628.3 169.25 L628.8 167.74 L629.3 166.18 L629.7 164.52 L630.2 162.70 L630.7 160.74 L631.1 158.71 L631.6 156.61 L632.0 154.42 L632.5 152.14 L633.0 149.77 L633.4 147.29 L633.9 144.70 L634.4 142.00 L634.8 139.17 L635.3 136.22 L635.7 133.12 L636.2 129.88 L636.7 126.49 L637.1 122.95 L637.6 118.93 L638.1 114.07 L638.5 108.58 L639.0 102.71 L639.4 96.69 L639.9 90.75 L640.4 85.14 L640.8 80.09 L641.3 75.84 L641.8 72.25 L642.2 69.00 L642.7 66.05 L643.1 63.34 L643.6 60.87 L644.1 58.66 L644.5 56.57 L645.0 54.45 L645.5 52.18 L645.9 50.03 L646.4 48.25 L646.8 47.07 L647.3 46.10 L647.8 45.27 L648.2 44.69 L648.7 44.47 L649.2 44.56 L649.6 44.81 L650.1 45.19 L650.5 45.66 L651.0 46.19 L651.5 46.80 L651.9 47.71 L652.4 48.88 L652.9 50.25 L653.3 51.74 L653.8 53.30 L654.2 54.85 L654.7 56.43 L655.2 58.13 L655.6 59.95 L656.1 61.87 L656.6 63.90 L657.0 66.02 L657.5 68.26 L657.9 70.65 L658.4 73.19 L658.9 75.91 L659.3 78.81 L659.8 81.93 L660.3 85.28 L660.7 88.83 L661.2 92.54 L661.6 96.39 L662.1 100.35 L662.6 104.38 L663.0 108.47 L663.5 112.57 L664.0 116.66 L664.4 120.79 L664.9 125.14 L665.3 129.64 L665.8 134.26 L666.3 138.91 L666.7 143.53 L667.2 148.07 L667.7 152.45 L668.1 156.62 L668.6 160.51 L669.0 164.20 L669.5 167.90 L670.0 171.50 L670.4 174.87 L670.9 177.86 L671.4 180.35 L671.8 182.27 L672.3 183.92 L672.7 185.40 L673.2 186.73 L673.7 187.93 L674.1 189.03 L674.6 190.05 L675.1 191.02 L675.5 191.96 L676.0 192.88 L676.4 193.76 L676.9 194.61 L677.4 195.41 L677.8 196.18 L678.3 196.90 L678.8 197.56 L679.2 198.17 L679.7 198.73 L680.1 199.22 L680.6 199.66 L681.1 200.08 L681.5 200.47 L682.0 200.85 L682.5 201.20 L682.9 201.53 L683.4 201.85 L683.8 202.14 L684.3 202.41 L684.8 202.67 L685.2 202.91 L685.7 203.12 L686.2 203.33 L686.6 203.52 L687.1 203.71 L687.5 203.89 L688.0 204.06 L688.5 204.22 L688.9 204.38 L689.4 204.53 L689.9 204.68 L690.3 204.82 L690.8 204.95 L691.2 205.07 L691.7 205.19 L692.2 205.31 L692.6 205.42 L693.1 205.52 L693.6 205.61 L694.0 205.71 L694.5 205.79 L694.9 205.88 L695.4 205.97 L695.9 206.05 L696.3 206.13 L696.8 206.21 L697.3 206.28 L697.7 206.35 L698.2 206.42 L698.6 206.48 L699.1 206.53 L699.6 206.58 L700.0 206.61 L700.5 206.65" fill="none" stroke="#2a2ae6" stroke-width="1.4" stroke-linejoin="round" stroke-linecap="round"/>
<text x="374.1" y="210.60" font-size="10.15" text-anchor="end">0</text>
<line x1="377.2" y1="178.14" x2="380.4" y2="178.14" stroke="#d4d4d4" stroke-width="1"/>
<line x1="700.5" y1="178.14" x2="697.3" y2="178.14" stroke="#d4d4d4" stroke-width="1"/>
<text x="374.1" y="181.84" font-size="10.15" text-anchor="end">50</text>
<line x1="377.2" y1="149.39" x2="380.4" y2="149.39" stroke="#d4d4d4" stroke-width="1"/>
<line x1="700.5" y1="149.39" x2="697.3" y2="149.39" stroke="#d4d4d4" stroke-width="1"/>
<text x="374.1" y="153.09" font-size="10.15" text-anchor="end">100</text>
<line x1="377.2" y1="120.63" x2="380.4" y2="120.63" stroke="#d4d4d4" stroke-width="1"/>
<line x1="700.5" y1="120.63" x2="697.3" y2="120.63" stroke="#d4d4d4" stroke-width="1"/>
<text x="374.1" y="124.33" font-size="10.15" text-anchor="end">150</text>
<line x1="377.2" y1="91.87" x2="380.4" y2="91.87" stroke="#d4d4d4" stroke-width="1"/>
<line x1="700.5" y1="91.87" x2="697.3" y2="91.87" stroke="#d4d4d4" stroke-width="1"/>
<text x="374.1" y="95.57" font-size="10.15" text-anchor="end">200</text>
<line x1="377.2" y1="63.11" x2="380.4" y2="63.11" stroke="#d4d4d4" stroke-width="1"/>
<line x1="700.5" y1="63.11" x2="697.3" y2="63.11" stroke="#d4d4d4" stroke-width="1"/>
<text x="374.1" y="66.81" font-size="10.15" text-anchor="end">250</text>
<line x1="377.2" y1="34.36" x2="380.4" y2="34.36" stroke="#d4d4d4" stroke-width="1"/>
<line x1="700.5" y1="34.36" x2="697.3" y2="34.36" stroke="#d4d4d4" stroke-width="1"/>
<text x="374.1" y="38.06" font-size="10.15" text-anchor="end">300</text>
<text x="374.1" y="9.30" font-size="10.15" text-anchor="end">350</text>
<line x1="396.22" y1="206.9" x2="396.22" y2="203.70000000000002" stroke="#d4d4d4" stroke-width="1"/>
<line x1="396.22" y1="5.6" x2="396.22" y2="8.8" stroke="#d4d4d4" stroke-width="1"/>
<text x="396.22" y="218.3" font-size="10.3" text-anchor="middle">7</text>
<line x1="434.25" y1="206.9" x2="434.25" y2="203.70000000000002" stroke="#d4d4d4" stroke-width="1"/>
<line x1="434.25" y1="5.6" x2="434.25" y2="8.8" stroke="#d4d4d4" stroke-width="1"/>
<text x="434.25" y="218.3" font-size="10.3" text-anchor="middle">8</text>
<line x1="472.29" y1="206.9" x2="472.29" y2="203.70000000000002" stroke="#d4d4d4" stroke-width="1"/>
<line x1="472.29" y1="5.6" x2="472.29" y2="8.8" stroke="#d4d4d4" stroke-width="1"/>
<text x="472.29" y="218.3" font-size="10.3" text-anchor="middle">9</text>
<line x1="510.32" y1="206.9" x2="510.32" y2="203.70000000000002" stroke="#d4d4d4" stroke-width="1"/>
<line x1="510.32" y1="5.6" x2="510.32" y2="8.8" stroke="#d4d4d4" stroke-width="1"/>
<text x="510.32" y="218.3" font-size="10.3" text-anchor="middle">10</text>
<line x1="548.36" y1="206.9" x2="548.36" y2="203.70000000000002" stroke="#d4d4d4" stroke-width="1"/>
<line x1="548.36" y1="5.6" x2="548.36" y2="8.8" stroke="#d4d4d4" stroke-width="1"/>
<text x="548.36" y="218.3" font-size="10.3" text-anchor="middle">11</text>
<line x1="586.39" y1="206.9" x2="586.39" y2="203.70000000000002" stroke="#d4d4d4" stroke-width="1"/>
<line x1="586.39" y1="5.6" x2="586.39" y2="8.8" stroke="#d4d4d4" stroke-width="1"/>
<text x="586.39" y="218.3" font-size="10.3" text-anchor="middle">12</text>
<line x1="624.43" y1="206.9" x2="624.43" y2="203.70000000000002" stroke="#d4d4d4" stroke-width="1"/>
<line x1="624.43" y1="5.6" x2="624.43" y2="8.8" stroke="#d4d4d4" stroke-width="1"/>
<text x="624.43" y="218.3" font-size="10.3" text-anchor="middle">13</text>
<line x1="662.46" y1="206.9" x2="662.46" y2="203.70000000000002" stroke="#d4d4d4" stroke-width="1"/>
<line x1="662.46" y1="5.6" x2="662.46" y2="8.8" stroke="#d4d4d4" stroke-width="1"/>
<text x="662.46" y="218.3" font-size="10.3" text-anchor="middle">14</text>
<text x="700.50" y="218.3" font-size="10.3" text-anchor="middle">15</text>
<text x="539" y="233.4" font-size="10.7" text-anchor="middle">Retention Time (min)</text>
<text transform="translate(348.8 106.8) rotate(-90)" font-size="10.4" text-anchor="middle">Absorbance <tspan font-size="7.6" dy="1.8">210 nm</tspan><tspan dy="-1.8"> (mAU)</tspan></text>
<text x="330.6" y="13.7" font-size="10.5" font-weight="bold" fill="#111">(b)</text>
<rect x="386.7" y="12" width="66.7" height="80.2" fill="#fff" stroke="#7d7d7d" stroke-width="1"/>
<line x1="390.3" y1="19.90" x2="405" y2="19.90" stroke="#ff6eb4" stroke-width="1.6"/>
<text x="428" y="23.70" font-size="10.5" text-anchor="middle">0 hour</text>
<line x1="390.3" y1="32.64" x2="405" y2="32.64" stroke="#35b8f0" stroke-width="1.6"/>
<text x="428" y="36.44" font-size="10.5" text-anchor="middle">1 hour</text>
<line x1="390.3" y1="45.38" x2="405" y2="45.38" stroke="#ffd83c" stroke-width="1.6"/>
<text x="428" y="49.18" font-size="10.5" text-anchor="middle">2 hours</text>
<line x1="390.3" y1="58.12" x2="405" y2="58.12" stroke="#1fe61f" stroke-width="1.6"/>
<text x="428" y="61.92" font-size="10.5" text-anchor="middle">4 hours</text>
<line x1="390.3" y1="70.86" x2="405" y2="70.86" stroke="#f02222" stroke-width="1.6"/>
<text x="428" y="74.66" font-size="10.5" text-anchor="middle">8 hours</text>
<line x1="390.3" y1="83.60" x2="405" y2="83.60" stroke="#2a2ae6" stroke-width="1.6"/>
<text x="428" y="87.40" font-size="10.5" text-anchor="middle">24 hours</text>
</g>
</svg></body></html>
